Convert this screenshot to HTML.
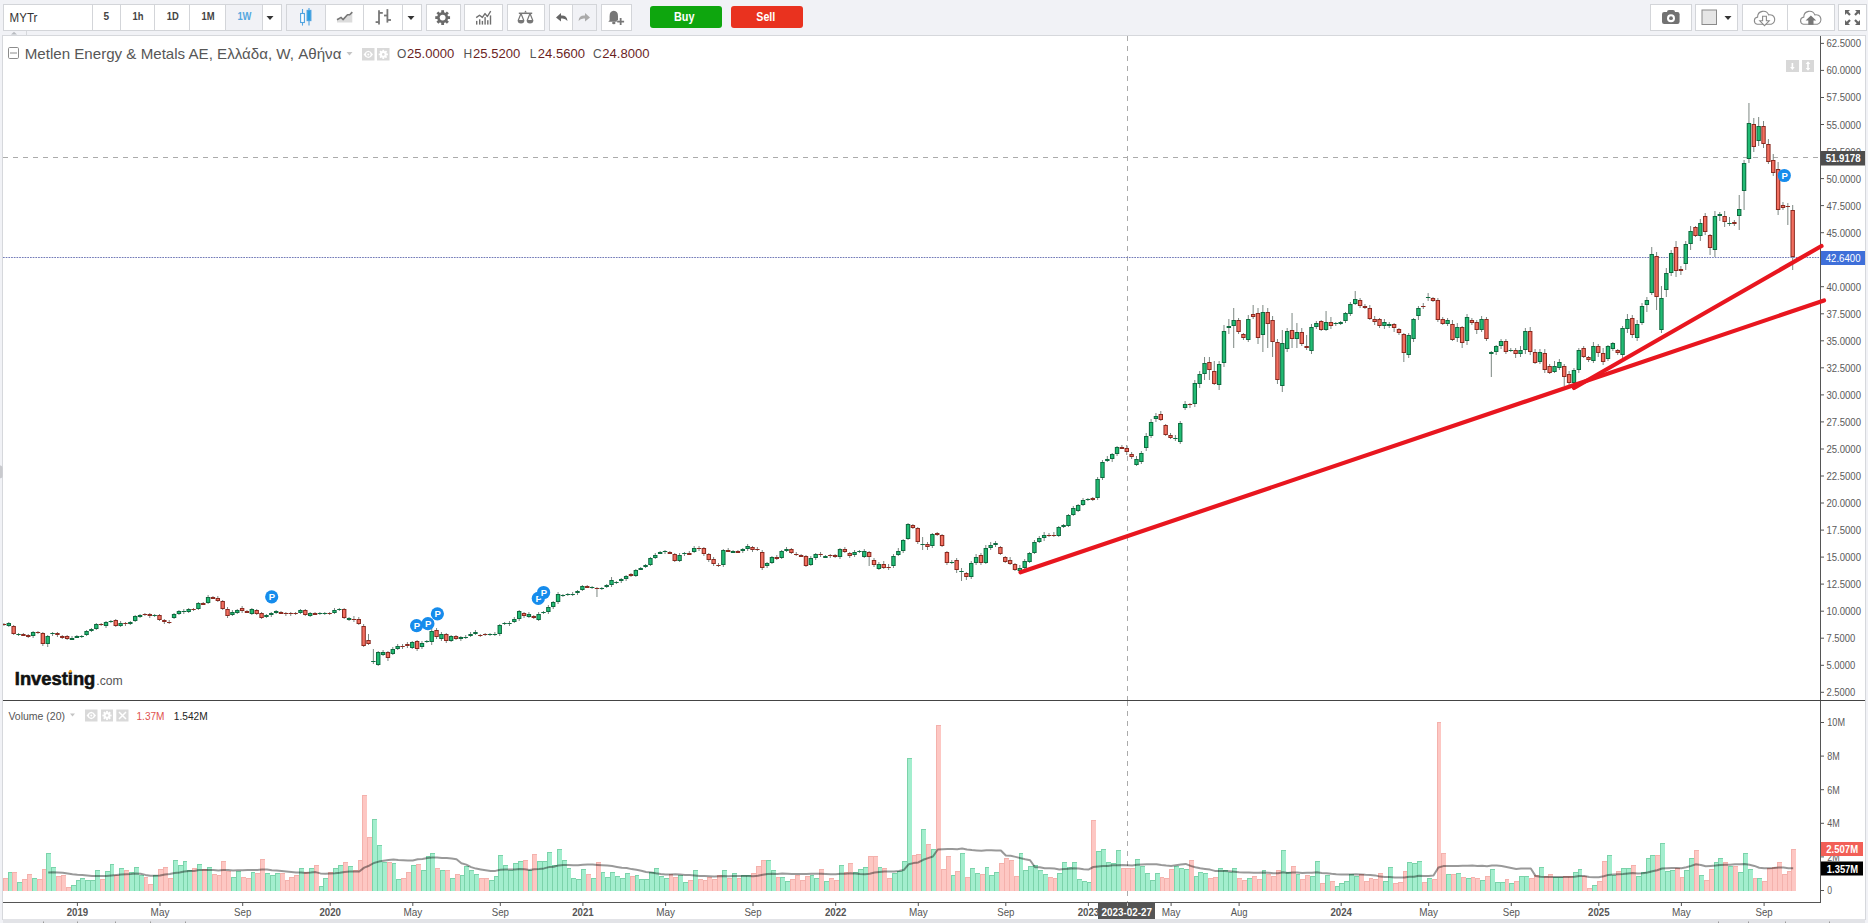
<!DOCTYPE html><html><head><meta charset="utf-8"><title>Metlen Energy &amp; Metals chart</title><style>html,body{margin:0;padding:0;width:1868px;height:923px;overflow:hidden;background:#f1f2f6}</style></head><body><svg width="1868" height="923" viewBox="0 0 1868 923" style="position:absolute;left:0;top:0"><rect x="0" y="0" width="1868" height="923" fill="#f1f2f6"/><rect x="3" y="36" width="1862" height="883" fill="#ffffff"/><rect x="2.5" y="35.5" width="1863" height="884" fill="none" stroke="#d6d8dc"/><path d="M0 465.5 L0.8 465.5 Q2.6 466 2.6 468 L2.6 476 Q2.6 478 0.8 478.3 L0 478.3 Z" fill="#c9cace"/><rect x="3" y="919" width="1862" height="4" fill="#e2e3e7"/><rect x="43" y="921.5" width="1" height="1.5" fill="#9a9a9a"/><rect x="77" y="921.5" width="1" height="1.5" fill="#9a9a9a"/><rect x="115" y="921.5" width="1" height="1.5" fill="#9a9a9a"/><rect x="150" y="921.5" width="1" height="1.5" fill="#9a9a9a"/><rect x="185" y="921.5" width="1" height="1.5" fill="#9a9a9a"/><rect x="1718" y="921.5" width="1" height="1.5" fill="#9a9a9a"/><rect x="1748" y="921.5" width="1" height="1.5" fill="#9a9a9a"/><rect x="1785" y="921.5" width="1" height="1.5" fill="#9a9a9a"/><rect x="1829" y="921.5" width="1" height="1.5" fill="#9a9a9a"/><path d="M11 34.5 L14 31.8 L17 34.5 Z" fill="#b8bbc0"/><rect x="26" y="31" width="1" height="4.5" fill="#d6d8dc"/><rect x="3.5" y="4.5" width="278.0" height="26.0" fill="#ffffff" stroke="#d3d5d9"/><rect x="226" y="5" width="36" height="25" fill="#f1f2f6"/><line x1="92.5" y1="4.5" x2="92.5" y2="30.5" stroke="#d3d5d9"/><line x1="120.5" y1="4.5" x2="120.5" y2="30.5" stroke="#d3d5d9"/><line x1="154.5" y1="4.5" x2="154.5" y2="30.5" stroke="#d3d5d9"/><line x1="189.5" y1="4.5" x2="189.5" y2="30.5" stroke="#d3d5d9"/><line x1="225.5" y1="4.5" x2="225.5" y2="30.5" stroke="#d3d5d9"/><line x1="262.5" y1="4.5" x2="262.5" y2="30.5" stroke="#d3d5d9"/><text x="9.6" y="21.5" font-family="'Liberation Sans', Arial, sans-serif" font-size="12.5" fill="#333" font-weight="normal" text-anchor="start"  textLength="27.8" lengthAdjust="spacingAndGlyphs">MYTr</text><text x="106.3" y="20.4" font-family="'Liberation Sans', Arial, sans-serif" font-size="10" fill="#444" font-weight="bold" text-anchor="middle"  textLength="5.6" lengthAdjust="spacingAndGlyphs">5</text><text x="137.9" y="20.4" font-family="'Liberation Sans', Arial, sans-serif" font-size="10" fill="#444" font-weight="bold" text-anchor="middle"  textLength="11" lengthAdjust="spacingAndGlyphs">1h</text><text x="172.7" y="20.4" font-family="'Liberation Sans', Arial, sans-serif" font-size="10" fill="#444" font-weight="bold" text-anchor="middle"  textLength="12" lengthAdjust="spacingAndGlyphs">1D</text><text x="208.05" y="20.4" font-family="'Liberation Sans', Arial, sans-serif" font-size="10" fill="#444" font-weight="bold" text-anchor="middle"  textLength="13.1" lengthAdjust="spacingAndGlyphs">1M</text><text x="244.45" y="20.4" font-family="'Liberation Sans', Arial, sans-serif" font-size="10" fill="#55a7df" font-weight="bold" text-anchor="middle"  textLength="14.1" lengthAdjust="spacingAndGlyphs">1W</text><path d="M266.5 16 L273.5 16 L270 20 Z" fill="#333"/><rect x="286.5" y="4.5" width="135.0" height="26.0" fill="#ffffff" stroke="#d3d5d9"/><rect x="287" y="5" width="38" height="25" fill="#f1f2f6"/><line x1="325.5" y1="4.5" x2="325.5" y2="30.5" stroke="#d3d5d9"/><line x1="363.5" y1="4.5" x2="363.5" y2="30.5" stroke="#d3d5d9"/><line x1="402.5" y1="4.5" x2="402.5" y2="30.5" stroke="#d3d5d9"/><g stroke="#4fa3e0" stroke-width="1.1" fill="none"><line x1="302.5" y1="9" x2="302.5" y2="25.6"/><rect x="300.6" y="13.5" width="3.8" height="9" fill="#fff"/><line x1="309" y1="8" x2="309" y2="25.6"/><rect x="307.1" y="10.4" width="3.8" height="10.2" fill="#2b9fe0"/></g><path d="M337 22.4 L337 19.8 L341.1 17.4 L343 19.6 L347.5 14.7 L349.7 14.7 L352.3 12.1 L352.3 22.4 Z" fill="#dcdcdc"/><path d="M337 19.8 L341.1 17.4 L343 19.6 L347.5 14.7 L349.7 14.7 L352.3 12.1" fill="none" stroke="#777" stroke-width="1.6" stroke-linejoin="round"/><g stroke="#777" stroke-width="1.8" fill="none"><line x1="379" y1="10.2" x2="379" y2="24.5"/><line x1="379" y1="12.9" x2="382.8" y2="12.9"/><line x1="375.6" y1="22.1" x2="379" y2="22.1"/><line x1="387.4" y1="9.1" x2="387.4" y2="22.6"/><line x1="384" y1="15.5" x2="387.4" y2="15.5"/><line x1="387.4" y1="20" x2="391" y2="20"/></g><path d="M407.5 16 L414.5 16 L411 20 Z" fill="#333"/><rect x="426.5" y="4.5" width="34.0" height="26.0" fill="#ffffff" stroke="#d3d5d9"/><g fill="#6a6a6a"><rect x="441.25" y="10.2" width="2.8" height="4" transform="rotate(0 442.65 17.6)"/><rect x="441.25" y="10.2" width="2.8" height="4" transform="rotate(45 442.65 17.6)"/><rect x="441.25" y="10.2" width="2.8" height="4" transform="rotate(90 442.65 17.6)"/><rect x="441.25" y="10.2" width="2.8" height="4" transform="rotate(135 442.65 17.6)"/><rect x="441.25" y="10.2" width="2.8" height="4" transform="rotate(180 442.65 17.6)"/><rect x="441.25" y="10.2" width="2.8" height="4" transform="rotate(225 442.65 17.6)"/><rect x="441.25" y="10.2" width="2.8" height="4" transform="rotate(270 442.65 17.6)"/><rect x="441.25" y="10.2" width="2.8" height="4" transform="rotate(315 442.65 17.6)"/><circle cx="442.65" cy="17.6" r="5.5"/></g><circle cx="442.65" cy="17.6" r="2.9" fill="#fff"/><rect x="464.5" y="4.5" width="38.0" height="26.0" fill="#ffffff" stroke="#d3d5d9"/><g fill="#6f6f6f"><rect x="476.0" y="20.9" width="1.4" height="3.7"/><rect x="479.0" y="19.3" width="1.4" height="5.3"/><rect x="481.7" y="20.9" width="1.4" height="3.7"/><rect x="484.4" y="17.1" width="1.4" height="7.5"/><rect x="487.1" y="20.2" width="1.4" height="4.4"/><rect x="489.8" y="15.4" width="1.4" height="9.2"/></g><path d="M476.2 17.6 L479.5 15.2 L482.4 17.4 L485 13.6 L487.4 16.5 L490.7 11.2" fill="none" stroke="#6f6f6f" stroke-width="1.4" stroke-linejoin="round"/><rect x="507.5" y="4.5" width="37.0" height="26.0" fill="#ffffff" stroke="#d3d5d9"/><g stroke="#777" stroke-width="1.2" fill="none"><line x1="518.8" y1="13.3" x2="532.2" y2="13.3" stroke-width="1.5"/><path d="M521 13.5 L518.3 20.3 M521 13.5 L523.7 20.3"/><path d="M530 13.5 L527.3 20.3 M530 13.5 L532.7 20.3"/></g><path d="M524.2 12.6 L525.5 10.6 L526.8 12.6 Z" fill="#777"/><path d="M517.6 20 L524.4 20 Q524.4 23.6 521 23.6 Q517.6 23.6 517.6 20 Z" fill="#777"/><path d="M526.6 20 L533.4 20 Q533.4 23.6 530 23.6 Q526.6 23.6 526.6 20 Z" fill="#777"/><rect x="549.5" y="4.5" width="47.0" height="26.0" fill="#ffffff" stroke="#d3d5d9"/><rect x="573" y="5" width="23" height="25" fill="#f1f2f6"/><line x1="572.5" y1="4.5" x2="572.5" y2="30.5" stroke="#d3d5d9"/><path d="M556 17.5 L561 13 L561 15.6 Q567 15.2 567.5 21 Q565 17.8 561 18.6 L561 21.5 Z" fill="#666"/><path d="M590 17.5 L585 13 L585 15.6 Q579 15.2 578.5 21 Q581 17.8 585 18.6 L585 21.5 Z" fill="#aaa"/><rect x="601.5" y="4.5" width="30.0" height="26.0" fill="#ffffff" stroke="#d3d5d9"/><path d="M608.3 21.8 L609.6 20.2 L609.6 16.2 Q609.6 11 613.8 10.8 Q618 11 618 16.2 L618 20.2 L619.3 21.8 Z" fill="#777"/><ellipse cx="613.8" cy="23" rx="1.7" ry="1.3" fill="#777"/><path d="M617.2 20.7 h6.9 v1.8 h-6.9 Z M619.75 18.1 h1.8 v7 h-1.8 Z" fill="#777" stroke="#fff" stroke-width="0.8" paint-order="stroke"/><rect x="650" y="6" width="72" height="22" rx="3" fill="#0ea60e"/><rect x="731" y="6" width="72" height="22" rx="3" fill="#e9321f"/><text x="684.2" y="21.2" font-family="'Liberation Sans', Arial, sans-serif" font-size="12" fill="#ffffff" font-weight="bold" text-anchor="middle"  textLength="20.5" lengthAdjust="spacingAndGlyphs">Buy</text><text x="765.8" y="21.2" font-family="'Liberation Sans', Arial, sans-serif" font-size="12" fill="#ffffff" font-weight="bold" text-anchor="middle"  textLength="19" lengthAdjust="spacingAndGlyphs">Sell</text><rect x="1650.5" y="4.5" width="41.0" height="26.0" fill="#ffffff" stroke="#d3d5d9"/><rect x="1662" y="12" width="17.6" height="12" rx="2.2" fill="#727272"/><rect x="1667" y="10" width="8" height="4" rx="2" fill="#727272"/><circle cx="1671" cy="18.2" r="4" fill="#fff"/><circle cx="1671" cy="18.2" r="1.9" fill="#727272"/><rect x="1695.5" y="4.5" width="42.0" height="26.0" fill="#ffffff" stroke="#d3d5d9"/><rect x="1702" y="10" width="14.5" height="14.5" fill="#e6e6e6" stroke="#8a8a8a"/><path d="M1724.5 16 L1731.5 16 L1728 20 Z" fill="#333"/><rect x="1742.5" y="4.5" width="92.0" height="26.0" fill="#ffffff" stroke="#d3d5d9"/><line x1="1787.5" y1="4.5" x2="1787.5" y2="30.5" stroke="#d3d5d9"/><path d="M1757.2 24.2 A3.6 3.6 0 0 1 1757.6 17.1 A5.7 5.7 0 0 1 1768.6 14.9 A4.6 4.6 0 0 1 1771.2 24.2 Z" fill="#fff" stroke="#8a8a8a" stroke-width="1.1"/><path d="M1762.6 16.2 L1766.4 16.2 L1766.4 20.8 L1769.2 20.8 L1764.5 25.6 L1759.8 20.8 L1762.6 20.8 Z" fill="#fff" stroke="#8a8a8a" stroke-width="1.1"/><path d="M1803.4 24.2 A3.6 3.6 0 0 1 1803.8 17.1 A5.7 5.7 0 0 1 1814.8 14.9 A4.6 4.6 0 0 1 1817.4 24.2 Z" fill="#fff" stroke="#8a8a8a" stroke-width="1.1"/><path d="M1808.3 24.8 L1813.5 24.8 L1813.5 20.6 L1816.2 20.6 L1810.9 15.6 L1805.6 20.6 L1808.3 20.6 Z" fill="#777"/><rect x="1838.5" y="4.5" width="28.0" height="26.0" fill="#ffffff" stroke="#d3d5d9"/><g fill="#666"><path d="M1845 10 L1850 10 L1848.3 11.7 L1850.8 14.2 L1849.2 15.8 L1846.7 13.3 L1845 15 Z"/><path d="M1860 10 L1855 10 L1856.7 11.7 L1854.2 14.2 L1855.8 15.8 L1858.3 13.3 L1860 15 Z"/><path d="M1845 25 L1850 25 L1848.3 23.3 L1850.8 20.8 L1849.2 19.2 L1846.7 21.7 L1845 20 Z"/><path d="M1860 25 L1855 25 L1856.7 23.3 L1854.2 20.8 L1855.8 19.2 L1858.3 21.7 L1860 20 Z"/></g><defs><clipPath id="pp"><rect x="3" y="36" width="1817" height="664"/></clipPath><clipPath id="vp"><rect x="3" y="701" width="1817" height="201"/></clipPath></defs><g clip-path="url(#pp)"><line x1="3" y1="157.5" x2="1820" y2="157.5" stroke="#ababab" stroke-dasharray="5 5"/><line x1="1127.5" y1="36" x2="1127.5" y2="700" stroke="#ababab" stroke-dasharray="5 5"/><line x1="3" y1="257.5" x2="1820" y2="257.5" stroke="#737bb8" stroke-dasharray="1.7 1" stroke-width="1"/><g fill="#7d8883"><rect x="3.45" y="623" width="1" height="3"/><rect x="8.31" y="622" width="1" height="5"/><rect x="13.17" y="625" width="1" height="10"/><rect x="18.03" y="633" width="1" height="3"/><rect x="22.89" y="633" width="1" height="3"/><rect x="27.75" y="634" width="1" height="4"/><rect x="32.61" y="631" width="1" height="7"/><rect x="37.47" y="631" width="1" height="3"/><rect x="42.34" y="632" width="1" height="14"/><rect x="47.20" y="635" width="1" height="12"/><rect x="52.06" y="632" width="1" height="4"/><rect x="56.92" y="632" width="1" height="5"/><rect x="61.78" y="635" width="1" height="4"/><rect x="66.64" y="635" width="1" height="5"/><rect x="71.50" y="636" width="1" height="4"/><rect x="76.36" y="635" width="1" height="3"/><rect x="81.22" y="635" width="1" height="3"/><rect x="86.08" y="630" width="1" height="6"/><rect x="90.94" y="628" width="1" height="4"/><rect x="95.80" y="623" width="1" height="7"/><rect x="100.66" y="623" width="1" height="3"/><rect x="105.52" y="621" width="1" height="7"/><rect x="110.39" y="620" width="1" height="3"/><rect x="115.25" y="619" width="1" height="8"/><rect x="120.11" y="621" width="1" height="6"/><rect x="124.97" y="622" width="1" height="4"/><rect x="129.83" y="621" width="1" height="4"/><rect x="134.69" y="615" width="1" height="7"/><rect x="139.55" y="614" width="1" height="4"/><rect x="144.41" y="613" width="1" height="3"/><rect x="149.27" y="613" width="1" height="5"/><rect x="154.13" y="614" width="1" height="3"/><rect x="158.99" y="614" width="1" height="7"/><rect x="163.85" y="619" width="1" height="5"/><rect x="168.71" y="620" width="1" height="4"/><rect x="173.57" y="613" width="1" height="6"/><rect x="178.44" y="610" width="1" height="5"/><rect x="183.30" y="609" width="1" height="5"/><rect x="188.16" y="608" width="1" height="5"/><rect x="193.02" y="608" width="1" height="3"/><rect x="197.88" y="602" width="1" height="8"/><rect x="202.74" y="602" width="1" height="3"/><rect x="207.60" y="595" width="1" height="9"/><rect x="212.46" y="596" width="1" height="3"/><rect x="217.32" y="596" width="1" height="6"/><rect x="222.18" y="600" width="1" height="10"/><rect x="227.04" y="607" width="1" height="11"/><rect x="231.90" y="610" width="1" height="6"/><rect x="236.76" y="609" width="1" height="5"/><rect x="241.62" y="606" width="1" height="7"/><rect x="246.48" y="610" width="1" height="3"/><rect x="251.35" y="608" width="1" height="7"/><rect x="256.21" y="609" width="1" height="6"/><rect x="261.07" y="612" width="1" height="7"/><rect x="265.93" y="614" width="1" height="4"/><rect x="270.79" y="612" width="1" height="5"/><rect x="275.65" y="610" width="1" height="4"/><rect x="280.51" y="611" width="1" height="3"/><rect x="285.37" y="612" width="1" height="4"/><rect x="290.23" y="612" width="1" height="4"/><rect x="295.09" y="612" width="1" height="3"/><rect x="299.95" y="609" width="1" height="5"/><rect x="304.81" y="609" width="1" height="7"/><rect x="309.67" y="612" width="1" height="5"/><rect x="314.53" y="612" width="1" height="3"/><rect x="319.40" y="612" width="1" height="3"/><rect x="324.26" y="612" width="1" height="3"/><rect x="329.12" y="612" width="1" height="3"/><rect x="333.98" y="608" width="1" height="6"/><rect x="338.84" y="608" width="1" height="3"/><rect x="343.70" y="608" width="1" height="11"/><rect x="348.56" y="617" width="1" height="4"/><rect x="353.42" y="616" width="1" height="6"/><rect x="358.28" y="617" width="1" height="8"/><rect x="363.14" y="624" width="1" height="23"/><rect x="368.00" y="634" width="1" height="11"/><rect x="372.86" y="649" width="1" height="15"/><rect x="377.72" y="651" width="1" height="15"/><rect x="382.58" y="650" width="1" height="6"/><rect x="387.45" y="651" width="1" height="10"/><rect x="392.31" y="647" width="1" height="8"/><rect x="397.17" y="644" width="1" height="6"/><rect x="402.03" y="644" width="1" height="5"/><rect x="406.89" y="642" width="1" height="6"/><rect x="411.75" y="641" width="1" height="8"/><rect x="416.61" y="640" width="1" height="11"/><rect x="421.47" y="641" width="1" height="8"/><rect x="426.33" y="640" width="1" height="3"/><rect x="431.19" y="629" width="1" height="16"/><rect x="436.05" y="628" width="1" height="11"/><rect x="440.91" y="632" width="1" height="9"/><rect x="445.77" y="633" width="1" height="10"/><rect x="450.63" y="635" width="1" height="7"/><rect x="455.50" y="635" width="1" height="5"/><rect x="460.36" y="636" width="1" height="5"/><rect x="465.22" y="635" width="1" height="4"/><rect x="470.08" y="632" width="1" height="5"/><rect x="474.94" y="630" width="1" height="5"/><rect x="479.80" y="634" width="1" height="3"/><rect x="484.66" y="633" width="1" height="3"/><rect x="489.52" y="633" width="1" height="3"/><rect x="494.38" y="632" width="1" height="4"/><rect x="499.24" y="624" width="1" height="12"/><rect x="504.10" y="622" width="1" height="3"/><rect x="508.96" y="621" width="1" height="5"/><rect x="513.82" y="617" width="1" height="6"/><rect x="518.68" y="610" width="1" height="11"/><rect x="523.54" y="612" width="1" height="6"/><rect x="528.41" y="612" width="1" height="6"/><rect x="533.27" y="615" width="1" height="4"/><rect x="538.13" y="612" width="1" height="9"/><rect x="542.99" y="611" width="1" height="3"/><rect x="547.85" y="605" width="1" height="9"/><rect x="552.71" y="601" width="1" height="8"/><rect x="557.57" y="592" width="1" height="12"/><rect x="562.43" y="594" width="1" height="3"/><rect x="567.29" y="593" width="1" height="3"/><rect x="572.15" y="592" width="1" height="4"/><rect x="577.01" y="590" width="1" height="5"/><rect x="581.87" y="585" width="1" height="6"/><rect x="586.73" y="585" width="1" height="3"/><rect x="591.59" y="586" width="1" height="3"/><rect x="596.46" y="587" width="1" height="10"/><rect x="601.32" y="587" width="1" height="3"/><rect x="606.18" y="584" width="1" height="4"/><rect x="611.04" y="577" width="1" height="10"/><rect x="615.90" y="581" width="1" height="3"/><rect x="620.76" y="578" width="1" height="5"/><rect x="625.62" y="575" width="1" height="6"/><rect x="630.48" y="573" width="1" height="4"/><rect x="635.34" y="569" width="1" height="8"/><rect x="640.20" y="567" width="1" height="3"/><rect x="645.06" y="564" width="1" height="4"/><rect x="649.92" y="557" width="1" height="9"/><rect x="654.78" y="553" width="1" height="6"/><rect x="659.64" y="551" width="1" height="3"/><rect x="664.51" y="550" width="1" height="4"/><rect x="669.37" y="551" width="1" height="3"/><rect x="674.23" y="553" width="1" height="9"/><rect x="679.09" y="553" width="1" height="9"/><rect x="683.95" y="552" width="1" height="4"/><rect x="688.81" y="551" width="1" height="4"/><rect x="693.67" y="546" width="1" height="7"/><rect x="698.53" y="546" width="1" height="5"/><rect x="703.39" y="547" width="1" height="9"/><rect x="708.25" y="553" width="1" height="9"/><rect x="713.11" y="557" width="1" height="9"/><rect x="717.97" y="563" width="1" height="4"/><rect x="722.83" y="549" width="1" height="18"/><rect x="727.69" y="548" width="1" height="4"/><rect x="732.55" y="550" width="1" height="3"/><rect x="737.42" y="550" width="1" height="3"/><rect x="742.28" y="548" width="1" height="5"/><rect x="747.14" y="544" width="1" height="7"/><rect x="752.00" y="546" width="1" height="6"/><rect x="756.86" y="547" width="1" height="4"/><rect x="761.72" y="550" width="1" height="20"/><rect x="766.58" y="562" width="1" height="6"/><rect x="771.44" y="556" width="1" height="8"/><rect x="776.30" y="555" width="1" height="5"/><rect x="781.16" y="550" width="1" height="9"/><rect x="786.02" y="547" width="1" height="5"/><rect x="790.88" y="548" width="1" height="6"/><rect x="795.74" y="552" width="1" height="4"/><rect x="800.60" y="554" width="1" height="3"/><rect x="805.47" y="555" width="1" height="12"/><rect x="810.33" y="556" width="1" height="10"/><rect x="815.19" y="553" width="1" height="7"/><rect x="820.05" y="552" width="1" height="5"/><rect x="824.91" y="555" width="1" height="3"/><rect x="829.77" y="554" width="1" height="4"/><rect x="834.63" y="554" width="1" height="4"/><rect x="839.49" y="548" width="1" height="11"/><rect x="844.35" y="547" width="1" height="6"/><rect x="849.21" y="552" width="1" height="6"/><rect x="854.07" y="550" width="1" height="7"/><rect x="858.93" y="550" width="1" height="3"/><rect x="863.79" y="549" width="1" height="9"/><rect x="868.65" y="551" width="1" height="15"/><rect x="873.52" y="558" width="1" height="9"/><rect x="878.38" y="562" width="1" height="8"/><rect x="883.24" y="561" width="1" height="8"/><rect x="888.10" y="564" width="1" height="6"/><rect x="892.96" y="554" width="1" height="14"/><rect x="897.82" y="548" width="1" height="8"/><rect x="902.68" y="539" width="1" height="14"/><rect x="907.54" y="523" width="1" height="17"/><rect x="912.40" y="524" width="1" height="5"/><rect x="917.26" y="527" width="1" height="17"/><rect x="922.12" y="537" width="1" height="13"/><rect x="926.98" y="542" width="1" height="8"/><rect x="931.84" y="533" width="1" height="15"/><rect x="936.70" y="532" width="1" height="4"/><rect x="941.57" y="534" width="1" height="13"/><rect x="946.43" y="551" width="1" height="14"/><rect x="951.29" y="560" width="1" height="4"/><rect x="956.15" y="558" width="1" height="15"/><rect x="961.01" y="568" width="1" height="13"/><rect x="965.87" y="572" width="1" height="8"/><rect x="970.73" y="561" width="1" height="18"/><rect x="975.59" y="554" width="1" height="11"/><rect x="980.45" y="553" width="1" height="12"/><rect x="985.31" y="545" width="1" height="19"/><rect x="990.17" y="542" width="1" height="8"/><rect x="995.03" y="541" width="1" height="6"/><rect x="999.89" y="546" width="1" height="9"/><rect x="1004.75" y="556" width="1" height="7"/><rect x="1009.61" y="557" width="1" height="8"/><rect x="1014.48" y="563" width="1" height="8"/><rect x="1019.34" y="565" width="1" height="9"/><rect x="1024.20" y="559" width="1" height="10"/><rect x="1029.06" y="552" width="1" height="11"/><rect x="1033.92" y="540" width="1" height="14"/><rect x="1038.78" y="536" width="1" height="7"/><rect x="1043.64" y="532" width="1" height="9"/><rect x="1048.50" y="533" width="1" height="4"/><rect x="1053.36" y="532" width="1" height="5"/><rect x="1058.22" y="526" width="1" height="11"/><rect x="1063.08" y="524" width="1" height="4"/><rect x="1067.94" y="514" width="1" height="13"/><rect x="1072.80" y="506" width="1" height="10"/><rect x="1077.66" y="504" width="1" height="8"/><rect x="1082.53" y="498" width="1" height="8"/><rect x="1087.39" y="498" width="1" height="3"/><rect x="1092.25" y="497" width="1" height="4"/><rect x="1097.11" y="477" width="1" height="23"/><rect x="1101.97" y="460" width="1" height="20"/><rect x="1106.83" y="456" width="1" height="6"/><rect x="1111.69" y="453" width="1" height="9"/><rect x="1116.55" y="446" width="1" height="10"/><rect x="1121.41" y="445" width="1" height="4"/><rect x="1126.27" y="445" width="1" height="10"/><rect x="1131.13" y="452" width="1" height="7"/><rect x="1135.99" y="456" width="1" height="10"/><rect x="1140.85" y="451" width="1" height="13"/><rect x="1145.71" y="433" width="1" height="18"/><rect x="1150.58" y="419" width="1" height="19"/><rect x="1155.44" y="413" width="1" height="9"/><rect x="1160.30" y="411" width="1" height="10"/><rect x="1165.16" y="424" width="1" height="12"/><rect x="1170.02" y="433" width="1" height="6"/><rect x="1174.88" y="435" width="1" height="6"/><rect x="1179.74" y="421" width="1" height="23"/><rect x="1184.60" y="401" width="1" height="9"/><rect x="1189.46" y="403" width="1" height="5"/><rect x="1194.32" y="380" width="1" height="27"/><rect x="1199.18" y="371" width="1" height="17"/><rect x="1204.04" y="357" width="1" height="23"/><rect x="1208.90" y="357" width="1" height="23"/><rect x="1213.76" y="361" width="1" height="24"/><rect x="1218.62" y="361" width="1" height="29"/><rect x="1223.49" y="325" width="1" height="42"/><rect x="1228.35" y="319" width="1" height="15"/><rect x="1233.21" y="308" width="1" height="40"/><rect x="1238.07" y="318" width="1" height="16"/><rect x="1242.93" y="333" width="1" height="7"/><rect x="1247.79" y="315" width="1" height="27"/><rect x="1252.65" y="305" width="1" height="14"/><rect x="1257.51" y="308" width="1" height="36"/><rect x="1262.37" y="305" width="1" height="47"/><rect x="1267.23" y="308" width="1" height="40"/><rect x="1272.09" y="316" width="1" height="41"/><rect x="1276.95" y="339" width="1" height="45"/><rect x="1281.81" y="330" width="1" height="62"/><rect x="1286.67" y="328" width="1" height="24"/><rect x="1291.54" y="313" width="1" height="35"/><rect x="1296.40" y="323" width="1" height="25"/><rect x="1301.26" y="328" width="1" height="18"/><rect x="1306.12" y="335" width="1" height="15"/><rect x="1310.98" y="324" width="1" height="30"/><rect x="1315.84" y="321" width="1" height="8"/><rect x="1320.70" y="320" width="1" height="11"/><rect x="1325.56" y="311" width="1" height="20"/><rect x="1330.42" y="317" width="1" height="12"/><rect x="1335.28" y="322" width="1" height="4"/><rect x="1340.14" y="321" width="1" height="4"/><rect x="1345.00" y="312" width="1" height="11"/><rect x="1349.86" y="302" width="1" height="14"/><rect x="1354.72" y="291" width="1" height="14"/><rect x="1359.59" y="298" width="1" height="10"/><rect x="1364.45" y="304" width="1" height="5"/><rect x="1369.31" y="305" width="1" height="15"/><rect x="1374.17" y="316" width="1" height="9"/><rect x="1379.03" y="318" width="1" height="10"/><rect x="1383.89" y="319" width="1" height="10"/><rect x="1388.75" y="322" width="1" height="6"/><rect x="1393.61" y="323" width="1" height="9"/><rect x="1398.47" y="328" width="1" height="7"/><rect x="1403.33" y="333" width="1" height="29"/><rect x="1408.19" y="333" width="1" height="25"/><rect x="1413.05" y="318" width="1" height="24"/><rect x="1417.91" y="306" width="1" height="14"/><rect x="1422.77" y="303" width="1" height="6"/><rect x="1427.64" y="293" width="1" height="8"/><rect x="1432.50" y="297" width="1" height="5"/><rect x="1437.36" y="298" width="1" height="24"/><rect x="1442.22" y="317" width="1" height="8"/><rect x="1447.08" y="318" width="1" height="8"/><rect x="1451.94" y="320" width="1" height="21"/><rect x="1456.80" y="323" width="1" height="19"/><rect x="1461.66" y="326" width="1" height="22"/><rect x="1466.52" y="314" width="1" height="31"/><rect x="1471.38" y="318" width="1" height="7"/><rect x="1476.24" y="320" width="1" height="14"/><rect x="1481.10" y="316" width="1" height="16"/><rect x="1485.96" y="317" width="1" height="24"/><rect x="1490.82" y="351" width="1" height="26"/><rect x="1495.68" y="345" width="1" height="10"/><rect x="1500.55" y="339" width="1" height="10"/><rect x="1505.41" y="339" width="1" height="15"/><rect x="1510.27" y="348" width="1" height="4"/><rect x="1515.13" y="348" width="1" height="10"/><rect x="1519.99" y="346" width="1" height="11"/><rect x="1524.85" y="328" width="1" height="26"/><rect x="1529.71" y="327" width="1" height="28"/><rect x="1534.57" y="349" width="1" height="15"/><rect x="1539.43" y="349" width="1" height="15"/><rect x="1544.29" y="349" width="1" height="24"/><rect x="1549.15" y="364" width="1" height="10"/><rect x="1554.01" y="361" width="1" height="12"/><rect x="1558.87" y="359" width="1" height="11"/><rect x="1563.73" y="364" width="1" height="22"/><rect x="1568.60" y="371" width="1" height="16"/><rect x="1573.46" y="368" width="1" height="18"/><rect x="1578.32" y="348" width="1" height="25"/><rect x="1583.18" y="346" width="1" height="12"/><rect x="1588.04" y="356" width="1" height="6"/><rect x="1592.90" y="342" width="1" height="21"/><rect x="1597.76" y="344" width="1" height="13"/><rect x="1602.62" y="348" width="1" height="17"/><rect x="1607.48" y="345" width="1" height="16"/><rect x="1612.34" y="342" width="1" height="9"/><rect x="1617.20" y="349" width="1" height="6"/><rect x="1622.06" y="326" width="1" height="32"/><rect x="1626.92" y="314" width="1" height="19"/><rect x="1631.78" y="315" width="1" height="23"/><rect x="1636.65" y="320" width="1" height="21"/><rect x="1641.51" y="303" width="1" height="22"/><rect x="1646.37" y="297" width="1" height="15"/><rect x="1651.23" y="247" width="1" height="48"/><rect x="1656.09" y="252" width="1" height="58"/><rect x="1660.95" y="286" width="1" height="47"/><rect x="1665.81" y="268" width="1" height="29"/><rect x="1670.67" y="250" width="1" height="26"/><rect x="1675.53" y="241" width="1" height="36"/><rect x="1680.39" y="266" width="1" height="9"/><rect x="1685.25" y="241" width="1" height="29"/><rect x="1690.11" y="226" width="1" height="24"/><rect x="1694.97" y="226" width="1" height="11"/><rect x="1699.83" y="219" width="1" height="22"/><rect x="1704.69" y="213" width="1" height="22"/><rect x="1709.56" y="234" width="1" height="21"/><rect x="1714.42" y="211" width="1" height="46"/><rect x="1719.28" y="212" width="1" height="9"/><rect x="1724.14" y="211" width="1" height="16"/><rect x="1729.00" y="217" width="1" height="9"/><rect x="1733.86" y="220" width="1" height="6"/><rect x="1738.72" y="195" width="1" height="35"/><rect x="1743.58" y="160" width="1" height="50"/><rect x="1748.44" y="103" width="1" height="60"/><rect x="1753.30" y="118" width="1" height="34"/><rect x="1758.16" y="117" width="1" height="29"/><rect x="1763.02" y="121" width="1" height="27"/><rect x="1767.88" y="139" width="1" height="25"/><rect x="1772.74" y="154" width="1" height="22"/><rect x="1777.61" y="162" width="1" height="53"/><rect x="1782.47" y="202" width="1" height="8"/><rect x="1787.33" y="203" width="1" height="22"/><rect x="1792.19" y="205" width="1" height="65"/></g><g><rect x="1.75" y="624" width="4.4" height="1" fill="#8a2a20"/><rect x="6.61" y="623" width="4.4" height="3" fill="#0e6b3f"/><rect x="7.61" y="624" width="2.4" height="1" fill="#22bb74"/><rect x="11.47" y="626" width="4.4" height="8" fill="#8a2a20"/><rect x="12.47" y="627" width="2.4" height="6" fill="#f26f60"/><rect x="16.33" y="634" width="4.4" height="1" fill="#0e6b3f"/><rect x="21.19" y="634" width="4.4" height="2" fill="#8a2a20"/><rect x="26.05" y="635" width="4.4" height="2" fill="#8a2a20"/><rect x="30.91" y="632" width="4.4" height="4" fill="#0e6b3f"/><rect x="31.91" y="633" width="2.4" height="2" fill="#22bb74"/><rect x="35.77" y="632" width="4.4" height="1" fill="#8a2a20"/><rect x="40.64" y="633" width="4.4" height="11" fill="#8a2a20"/><rect x="41.64" y="634" width="2.4" height="9" fill="#f26f60"/><rect x="45.50" y="636" width="4.4" height="8" fill="#0e6b3f"/><rect x="46.50" y="637" width="2.4" height="6" fill="#22bb74"/><rect x="50.36" y="633" width="4.4" height="1" fill="#0e6b3f"/><rect x="55.22" y="633" width="4.4" height="2" fill="#8a2a20"/><rect x="60.08" y="636" width="4.4" height="2" fill="#8a2a20"/><rect x="64.94" y="636" width="4.4" height="3" fill="#8a2a20"/><rect x="65.94" y="637" width="2.4" height="1" fill="#f26f60"/><rect x="69.80" y="638" width="4.4" height="2" fill="#0e6b3f"/><rect x="74.66" y="636" width="4.4" height="2" fill="#0e6b3f"/><rect x="79.52" y="636" width="4.4" height="1" fill="#0e6b3f"/><rect x="84.38" y="631" width="4.4" height="4" fill="#0e6b3f"/><rect x="85.38" y="632" width="2.4" height="2" fill="#22bb74"/><rect x="89.24" y="629" width="4.4" height="2" fill="#0e6b3f"/><rect x="94.10" y="624" width="4.4" height="5" fill="#0e6b3f"/><rect x="95.10" y="625" width="2.4" height="3" fill="#22bb74"/><rect x="98.96" y="624" width="4.4" height="1" fill="#8a2a20"/><rect x="103.82" y="622" width="4.4" height="4" fill="#0e6b3f"/><rect x="104.82" y="623" width="2.4" height="2" fill="#22bb74"/><rect x="108.69" y="621" width="4.4" height="1" fill="#0e6b3f"/><rect x="113.55" y="620" width="4.4" height="6" fill="#8a2a20"/><rect x="114.55" y="621" width="2.4" height="4" fill="#f26f60"/><rect x="118.41" y="623" width="4.4" height="3" fill="#0e6b3f"/><rect x="119.41" y="624" width="2.4" height="1" fill="#22bb74"/><rect x="123.27" y="623" width="4.4" height="1" fill="#8a2a20"/><rect x="128.13" y="622" width="4.4" height="2" fill="#0e6b3f"/><rect x="132.99" y="616" width="4.4" height="5" fill="#0e6b3f"/><rect x="133.99" y="617" width="2.4" height="3" fill="#22bb74"/><rect x="137.85" y="615" width="4.4" height="2" fill="#0e6b3f"/><rect x="142.71" y="614" width="4.4" height="1" fill="#8a2a20"/><rect x="147.57" y="614" width="4.4" height="2" fill="#8a2a20"/><rect x="152.43" y="615" width="4.4" height="1" fill="#0e6b3f"/><rect x="157.29" y="615" width="4.4" height="5" fill="#8a2a20"/><rect x="158.29" y="616" width="2.4" height="3" fill="#f26f60"/><rect x="162.15" y="620" width="4.4" height="2" fill="#8a2a20"/><rect x="167.01" y="622" width="4.4" height="1" fill="#8a2a20"/><rect x="171.87" y="614" width="4.4" height="4" fill="#0e6b3f"/><rect x="172.87" y="615" width="2.4" height="2" fill="#22bb74"/><rect x="176.74" y="611" width="4.4" height="3" fill="#0e6b3f"/><rect x="177.74" y="612" width="2.4" height="1" fill="#22bb74"/><rect x="181.60" y="611" width="4.4" height="1" fill="#0e6b3f"/><rect x="186.46" y="609" width="4.4" height="3" fill="#0e6b3f"/><rect x="187.46" y="610" width="2.4" height="1" fill="#22bb74"/><rect x="191.32" y="609" width="4.4" height="1" fill="#8a2a20"/><rect x="196.18" y="603" width="4.4" height="6" fill="#0e6b3f"/><rect x="197.18" y="604" width="2.4" height="4" fill="#22bb74"/><rect x="201.04" y="603" width="4.4" height="2" fill="#8a2a20"/><rect x="205.90" y="597" width="4.4" height="6" fill="#0e6b3f"/><rect x="206.90" y="598" width="2.4" height="4" fill="#22bb74"/><rect x="210.76" y="597" width="4.4" height="2" fill="#8a2a20"/><rect x="215.62" y="598" width="4.4" height="3" fill="#8a2a20"/><rect x="216.62" y="599" width="2.4" height="1" fill="#f26f60"/><rect x="220.48" y="601" width="4.4" height="8" fill="#8a2a20"/><rect x="221.48" y="602" width="2.4" height="6" fill="#f26f60"/><rect x="225.34" y="609" width="4.4" height="7" fill="#8a2a20"/><rect x="226.34" y="610" width="2.4" height="5" fill="#f26f60"/><rect x="230.20" y="612" width="4.4" height="3" fill="#0e6b3f"/><rect x="231.20" y="613" width="2.4" height="1" fill="#22bb74"/><rect x="235.06" y="610" width="4.4" height="3" fill="#0e6b3f"/><rect x="236.06" y="611" width="2.4" height="1" fill="#22bb74"/><rect x="239.92" y="608" width="4.4" height="3" fill="#8a2a20"/><rect x="240.92" y="609" width="2.4" height="1" fill="#f26f60"/><rect x="244.78" y="611" width="4.4" height="2" fill="#8a2a20"/><rect x="249.65" y="609" width="4.4" height="5" fill="#0e6b3f"/><rect x="250.65" y="610" width="2.4" height="3" fill="#22bb74"/><rect x="254.51" y="610" width="4.4" height="4" fill="#8a2a20"/><rect x="255.51" y="611" width="2.4" height="2" fill="#f26f60"/><rect x="259.37" y="613" width="4.4" height="5" fill="#8a2a20"/><rect x="260.37" y="614" width="2.4" height="3" fill="#f26f60"/><rect x="264.23" y="615" width="4.4" height="2" fill="#0e6b3f"/><rect x="269.09" y="613" width="4.4" height="2" fill="#0e6b3f"/><rect x="273.95" y="611" width="4.4" height="2" fill="#0e6b3f"/><rect x="278.81" y="612" width="4.4" height="2" fill="#8a2a20"/><rect x="283.67" y="613" width="4.4" height="1" fill="#8a2a20"/><rect x="288.53" y="613" width="4.4" height="1" fill="#8a2a20"/><rect x="293.39" y="613" width="4.4" height="1" fill="#8a2a20"/><rect x="298.25" y="610" width="4.4" height="3" fill="#0e6b3f"/><rect x="299.25" y="611" width="2.4" height="1" fill="#22bb74"/><rect x="303.11" y="610" width="4.4" height="5" fill="#8a2a20"/><rect x="304.11" y="611" width="2.4" height="3" fill="#f26f60"/><rect x="307.97" y="613" width="4.4" height="3" fill="#0e6b3f"/><rect x="308.97" y="614" width="2.4" height="1" fill="#22bb74"/><rect x="312.83" y="613" width="4.4" height="2" fill="#8a2a20"/><rect x="317.70" y="613" width="4.4" height="1" fill="#0e6b3f"/><rect x="322.56" y="613" width="4.4" height="1" fill="#0e6b3f"/><rect x="327.42" y="613" width="4.4" height="1" fill="#8a2a20"/><rect x="332.28" y="610" width="4.4" height="3" fill="#0e6b3f"/><rect x="333.28" y="611" width="2.4" height="1" fill="#22bb74"/><rect x="337.14" y="609" width="4.4" height="1" fill="#0e6b3f"/><rect x="342.00" y="609" width="4.4" height="9" fill="#8a2a20"/><rect x="343.00" y="610" width="2.4" height="7" fill="#f26f60"/><rect x="346.86" y="618" width="4.4" height="2" fill="#0e6b3f"/><rect x="351.72" y="619" width="4.4" height="1" fill="#8a2a20"/><rect x="356.58" y="619" width="4.4" height="5" fill="#8a2a20"/><rect x="357.58" y="620" width="2.4" height="3" fill="#f26f60"/><rect x="361.44" y="626" width="4.4" height="20" fill="#8a2a20"/><rect x="362.44" y="627" width="2.4" height="18" fill="#f26f60"/><rect x="366.30" y="640" width="4.4" height="4" fill="#8a2a20"/><rect x="367.30" y="641" width="2.4" height="2" fill="#f26f60"/><rect x="371.16" y="661" width="4.4" height="1" fill="#0e6b3f"/><rect x="376.02" y="652" width="4.4" height="13" fill="#0e6b3f"/><rect x="377.02" y="653" width="2.4" height="11" fill="#22bb74"/><rect x="380.88" y="652" width="4.4" height="3" fill="#0e6b3f"/><rect x="381.88" y="653" width="2.4" height="1" fill="#22bb74"/><rect x="385.75" y="652" width="4.4" height="6" fill="#8a2a20"/><rect x="386.75" y="653" width="2.4" height="4" fill="#f26f60"/><rect x="390.61" y="649" width="4.4" height="5" fill="#0e6b3f"/><rect x="391.61" y="650" width="2.4" height="3" fill="#22bb74"/><rect x="395.47" y="646" width="4.4" height="3" fill="#0e6b3f"/><rect x="396.47" y="647" width="2.4" height="1" fill="#22bb74"/><rect x="400.33" y="646" width="4.4" height="1" fill="#8a2a20"/><rect x="405.19" y="644" width="4.4" height="2" fill="#8a2a20"/><rect x="410.05" y="642" width="4.4" height="6" fill="#0e6b3f"/><rect x="411.05" y="643" width="2.4" height="4" fill="#22bb74"/><rect x="414.91" y="641" width="4.4" height="8" fill="#8a2a20"/><rect x="415.91" y="642" width="2.4" height="6" fill="#f26f60"/><rect x="419.77" y="643" width="4.4" height="4" fill="#0e6b3f"/><rect x="420.77" y="644" width="2.4" height="2" fill="#22bb74"/><rect x="424.63" y="641" width="4.4" height="1" fill="#0e6b3f"/><rect x="429.49" y="631" width="4.4" height="11" fill="#0e6b3f"/><rect x="430.49" y="632" width="2.4" height="9" fill="#22bb74"/><rect x="434.35" y="630" width="4.4" height="7" fill="#8a2a20"/><rect x="435.35" y="631" width="2.4" height="5" fill="#f26f60"/><rect x="439.21" y="634" width="4.4" height="5" fill="#0e6b3f"/><rect x="440.21" y="635" width="2.4" height="3" fill="#22bb74"/><rect x="444.07" y="634" width="4.4" height="7" fill="#8a2a20"/><rect x="445.07" y="635" width="2.4" height="5" fill="#f26f60"/><rect x="448.93" y="636" width="4.4" height="5" fill="#0e6b3f"/><rect x="449.93" y="637" width="2.4" height="3" fill="#22bb74"/><rect x="453.80" y="636" width="4.4" height="3" fill="#8a2a20"/><rect x="454.80" y="637" width="2.4" height="1" fill="#f26f60"/><rect x="458.66" y="637" width="4.4" height="2" fill="#0e6b3f"/><rect x="463.52" y="637" width="4.4" height="1" fill="#0e6b3f"/><rect x="468.38" y="634" width="4.4" height="2" fill="#0e6b3f"/><rect x="473.24" y="632" width="4.4" height="2" fill="#0e6b3f"/><rect x="478.10" y="635" width="4.4" height="1" fill="#8a2a20"/><rect x="482.96" y="634" width="4.4" height="1" fill="#8a2a20"/><rect x="487.82" y="634" width="4.4" height="1" fill="#0e6b3f"/><rect x="492.68" y="634" width="4.4" height="1" fill="#0e6b3f"/><rect x="497.54" y="625" width="4.4" height="9" fill="#0e6b3f"/><rect x="498.54" y="626" width="2.4" height="7" fill="#22bb74"/><rect x="502.40" y="623" width="4.4" height="1" fill="#0e6b3f"/><rect x="507.26" y="623" width="4.4" height="1" fill="#0e6b3f"/><rect x="512.12" y="619" width="4.4" height="3" fill="#0e6b3f"/><rect x="513.12" y="620" width="2.4" height="1" fill="#22bb74"/><rect x="516.98" y="611" width="4.4" height="8" fill="#0e6b3f"/><rect x="517.98" y="612" width="2.4" height="6" fill="#22bb74"/><rect x="521.84" y="613" width="4.4" height="3" fill="#8a2a20"/><rect x="522.84" y="614" width="2.4" height="1" fill="#f26f60"/><rect x="526.71" y="614" width="4.4" height="3" fill="#0e6b3f"/><rect x="527.71" y="615" width="2.4" height="1" fill="#22bb74"/><rect x="531.57" y="616" width="4.4" height="2" fill="#8a2a20"/><rect x="536.43" y="614" width="4.4" height="6" fill="#0e6b3f"/><rect x="537.43" y="615" width="2.4" height="4" fill="#22bb74"/><rect x="541.29" y="612" width="4.4" height="1" fill="#0e6b3f"/><rect x="546.15" y="607" width="4.4" height="5" fill="#0e6b3f"/><rect x="547.15" y="608" width="2.4" height="3" fill="#22bb74"/><rect x="551.01" y="602" width="4.4" height="5" fill="#0e6b3f"/><rect x="552.01" y="603" width="2.4" height="3" fill="#22bb74"/><rect x="555.87" y="594" width="4.4" height="8" fill="#0e6b3f"/><rect x="556.87" y="595" width="2.4" height="6" fill="#22bb74"/><rect x="560.73" y="595" width="4.4" height="1" fill="#0e6b3f"/><rect x="565.59" y="594" width="4.4" height="1" fill="#0e6b3f"/><rect x="570.45" y="594" width="4.4" height="1" fill="#0e6b3f"/><rect x="575.31" y="591" width="4.4" height="2" fill="#0e6b3f"/><rect x="580.17" y="586" width="4.4" height="4" fill="#0e6b3f"/><rect x="581.17" y="587" width="2.4" height="2" fill="#22bb74"/><rect x="585.03" y="586" width="4.4" height="2" fill="#8a2a20"/><rect x="589.89" y="587" width="4.4" height="1" fill="#0e6b3f"/><rect x="594.76" y="588" width="4.4" height="1" fill="#8a2a20"/><rect x="599.62" y="588" width="4.4" height="1" fill="#0e6b3f"/><rect x="604.48" y="585" width="4.4" height="2" fill="#0e6b3f"/><rect x="609.34" y="580" width="4.4" height="5" fill="#0e6b3f"/><rect x="610.34" y="581" width="2.4" height="3" fill="#22bb74"/><rect x="614.20" y="582" width="4.4" height="1" fill="#0e6b3f"/><rect x="619.06" y="579" width="4.4" height="2" fill="#0e6b3f"/><rect x="623.92" y="576" width="4.4" height="3" fill="#0e6b3f"/><rect x="624.92" y="577" width="2.4" height="1" fill="#22bb74"/><rect x="628.78" y="574" width="4.4" height="2" fill="#8a2a20"/><rect x="633.64" y="570" width="4.4" height="6" fill="#0e6b3f"/><rect x="634.64" y="571" width="2.4" height="4" fill="#22bb74"/><rect x="638.50" y="568" width="4.4" height="2" fill="#0e6b3f"/><rect x="643.36" y="565" width="4.4" height="2" fill="#0e6b3f"/><rect x="648.22" y="558" width="4.4" height="7" fill="#0e6b3f"/><rect x="649.22" y="559" width="2.4" height="5" fill="#22bb74"/><rect x="653.08" y="555" width="4.4" height="3" fill="#0e6b3f"/><rect x="654.08" y="556" width="2.4" height="1" fill="#22bb74"/><rect x="657.94" y="552" width="4.4" height="2" fill="#0e6b3f"/><rect x="662.81" y="551" width="4.4" height="1" fill="#0e6b3f"/><rect x="667.67" y="552" width="4.4" height="2" fill="#8a2a20"/><rect x="672.53" y="554" width="4.4" height="7" fill="#8a2a20"/><rect x="673.53" y="555" width="2.4" height="5" fill="#f26f60"/><rect x="677.39" y="555" width="4.4" height="6" fill="#0e6b3f"/><rect x="678.39" y="556" width="2.4" height="4" fill="#22bb74"/><rect x="682.25" y="553" width="4.4" height="1" fill="#0e6b3f"/><rect x="687.11" y="553" width="4.4" height="2" fill="#8a2a20"/><rect x="691.97" y="548" width="4.4" height="4" fill="#0e6b3f"/><rect x="692.97" y="549" width="2.4" height="2" fill="#22bb74"/><rect x="696.83" y="548" width="4.4" height="1" fill="#8a2a20"/><rect x="701.69" y="548" width="4.4" height="6" fill="#8a2a20"/><rect x="702.69" y="549" width="2.4" height="4" fill="#f26f60"/><rect x="706.55" y="554" width="4.4" height="6" fill="#8a2a20"/><rect x="707.55" y="555" width="2.4" height="4" fill="#f26f60"/><rect x="711.41" y="559" width="4.4" height="5" fill="#8a2a20"/><rect x="712.41" y="560" width="2.4" height="3" fill="#f26f60"/><rect x="716.27" y="565" width="4.4" height="1" fill="#8a2a20"/><rect x="721.13" y="550" width="4.4" height="15" fill="#0e6b3f"/><rect x="722.13" y="551" width="2.4" height="13" fill="#22bb74"/><rect x="725.99" y="550" width="4.4" height="2" fill="#8a2a20"/><rect x="730.85" y="551" width="4.4" height="2" fill="#0e6b3f"/><rect x="735.72" y="551" width="4.4" height="2" fill="#8a2a20"/><rect x="740.58" y="549" width="4.4" height="2" fill="#0e6b3f"/><rect x="745.44" y="546" width="4.4" height="3" fill="#0e6b3f"/><rect x="746.44" y="547" width="2.4" height="1" fill="#22bb74"/><rect x="750.30" y="547" width="4.4" height="3" fill="#8a2a20"/><rect x="751.30" y="548" width="2.4" height="1" fill="#f26f60"/><rect x="755.16" y="549" width="4.4" height="1" fill="#8a2a20"/><rect x="760.02" y="552" width="4.4" height="16" fill="#8a2a20"/><rect x="761.02" y="553" width="2.4" height="14" fill="#f26f60"/><rect x="764.88" y="563" width="4.4" height="3" fill="#0e6b3f"/><rect x="765.88" y="564" width="2.4" height="1" fill="#22bb74"/><rect x="769.74" y="557" width="4.4" height="6" fill="#0e6b3f"/><rect x="770.74" y="558" width="2.4" height="4" fill="#22bb74"/><rect x="774.60" y="557" width="4.4" height="2" fill="#8a2a20"/><rect x="779.46" y="551" width="4.4" height="7" fill="#0e6b3f"/><rect x="780.46" y="552" width="2.4" height="5" fill="#22bb74"/><rect x="784.32" y="549" width="4.4" height="2" fill="#0e6b3f"/><rect x="789.18" y="549" width="4.4" height="4" fill="#8a2a20"/><rect x="790.18" y="550" width="2.4" height="2" fill="#f26f60"/><rect x="794.04" y="554" width="4.4" height="1" fill="#8a2a20"/><rect x="798.90" y="555" width="4.4" height="2" fill="#8a2a20"/><rect x="803.77" y="556" width="4.4" height="10" fill="#8a2a20"/><rect x="804.77" y="557" width="2.4" height="8" fill="#f26f60"/><rect x="808.63" y="558" width="4.4" height="7" fill="#0e6b3f"/><rect x="809.63" y="559" width="2.4" height="5" fill="#22bb74"/><rect x="813.49" y="554" width="4.4" height="4" fill="#0e6b3f"/><rect x="814.49" y="555" width="2.4" height="2" fill="#22bb74"/><rect x="818.35" y="554" width="4.4" height="1" fill="#8a2a20"/><rect x="823.21" y="556" width="4.4" height="2" fill="#0e6b3f"/><rect x="828.07" y="555" width="4.4" height="1" fill="#8a2a20"/><rect x="832.93" y="555" width="4.4" height="2" fill="#8a2a20"/><rect x="837.79" y="549" width="4.4" height="8" fill="#0e6b3f"/><rect x="838.79" y="550" width="2.4" height="6" fill="#22bb74"/><rect x="842.65" y="549" width="4.4" height="3" fill="#8a2a20"/><rect x="843.65" y="550" width="2.4" height="1" fill="#f26f60"/><rect x="847.51" y="553" width="4.4" height="3" fill="#8a2a20"/><rect x="848.51" y="554" width="2.4" height="1" fill="#f26f60"/><rect x="852.37" y="552" width="4.4" height="3" fill="#0e6b3f"/><rect x="853.37" y="553" width="2.4" height="1" fill="#22bb74"/><rect x="857.23" y="551" width="4.4" height="1" fill="#0e6b3f"/><rect x="862.09" y="551" width="4.4" height="6" fill="#0e6b3f"/><rect x="863.09" y="552" width="2.4" height="4" fill="#22bb74"/><rect x="866.95" y="552" width="4.4" height="5" fill="#8a2a20"/><rect x="867.95" y="553" width="2.4" height="3" fill="#f26f60"/><rect x="871.82" y="560" width="4.4" height="5" fill="#8a2a20"/><rect x="872.82" y="561" width="2.4" height="3" fill="#f26f60"/><rect x="876.68" y="564" width="4.4" height="5" fill="#0e6b3f"/><rect x="877.68" y="565" width="2.4" height="3" fill="#22bb74"/><rect x="881.54" y="564" width="4.4" height="4" fill="#8a2a20"/><rect x="882.54" y="565" width="2.4" height="2" fill="#f26f60"/><rect x="886.40" y="567" width="4.4" height="1" fill="#8a2a20"/><rect x="891.26" y="556" width="4.4" height="10" fill="#0e6b3f"/><rect x="892.26" y="557" width="2.4" height="8" fill="#22bb74"/><rect x="896.12" y="551" width="4.4" height="4" fill="#0e6b3f"/><rect x="897.12" y="552" width="2.4" height="2" fill="#22bb74"/><rect x="900.98" y="540" width="4.4" height="11" fill="#0e6b3f"/><rect x="901.98" y="541" width="2.4" height="9" fill="#22bb74"/><rect x="905.84" y="524" width="4.4" height="15" fill="#0e6b3f"/><rect x="906.84" y="525" width="2.4" height="13" fill="#22bb74"/><rect x="910.70" y="525" width="4.4" height="3" fill="#8a2a20"/><rect x="911.70" y="526" width="2.4" height="1" fill="#f26f60"/><rect x="915.56" y="528" width="4.4" height="14" fill="#8a2a20"/><rect x="916.56" y="529" width="2.4" height="12" fill="#f26f60"/><rect x="920.42" y="544" width="4.4" height="1" fill="#0e6b3f"/><rect x="925.28" y="544" width="4.4" height="3" fill="#8a2a20"/><rect x="926.28" y="545" width="2.4" height="1" fill="#f26f60"/><rect x="930.14" y="534" width="4.4" height="12" fill="#0e6b3f"/><rect x="931.14" y="535" width="2.4" height="10" fill="#22bb74"/><rect x="935.00" y="533" width="4.4" height="2" fill="#8a2a20"/><rect x="939.87" y="535" width="4.4" height="11" fill="#8a2a20"/><rect x="940.87" y="536" width="2.4" height="9" fill="#f26f60"/><rect x="944.73" y="552" width="4.4" height="11" fill="#8a2a20"/><rect x="945.73" y="553" width="2.4" height="9" fill="#f26f60"/><rect x="949.59" y="562" width="4.4" height="1" fill="#0e6b3f"/><rect x="954.45" y="560" width="4.4" height="10" fill="#8a2a20"/><rect x="955.45" y="561" width="2.4" height="8" fill="#f26f60"/><rect x="959.31" y="571" width="4.4" height="1" fill="#0e6b3f"/><rect x="964.17" y="573" width="4.4" height="4" fill="#8a2a20"/><rect x="965.17" y="574" width="2.4" height="2" fill="#f26f60"/><rect x="969.03" y="563" width="4.4" height="14" fill="#0e6b3f"/><rect x="970.03" y="564" width="2.4" height="12" fill="#22bb74"/><rect x="973.89" y="557" width="4.4" height="6" fill="#0e6b3f"/><rect x="974.89" y="558" width="2.4" height="4" fill="#22bb74"/><rect x="978.75" y="555" width="4.4" height="8" fill="#8a2a20"/><rect x="979.75" y="556" width="2.4" height="6" fill="#f26f60"/><rect x="983.61" y="548" width="4.4" height="15" fill="#0e6b3f"/><rect x="984.61" y="549" width="2.4" height="13" fill="#22bb74"/><rect x="988.47" y="545" width="4.4" height="3" fill="#0e6b3f"/><rect x="989.47" y="546" width="2.4" height="1" fill="#22bb74"/><rect x="993.33" y="543" width="4.4" height="2" fill="#0e6b3f"/><rect x="998.19" y="547" width="4.4" height="7" fill="#8a2a20"/><rect x="999.19" y="548" width="2.4" height="5" fill="#f26f60"/><rect x="1003.05" y="557" width="4.4" height="5" fill="#8a2a20"/><rect x="1004.05" y="558" width="2.4" height="3" fill="#f26f60"/><rect x="1007.91" y="560" width="4.4" height="4" fill="#8a2a20"/><rect x="1008.91" y="561" width="2.4" height="2" fill="#f26f60"/><rect x="1012.78" y="564" width="4.4" height="6" fill="#8a2a20"/><rect x="1013.78" y="565" width="2.4" height="4" fill="#f26f60"/><rect x="1017.64" y="568" width="4.4" height="3" fill="#0e6b3f"/><rect x="1018.64" y="569" width="2.4" height="1" fill="#22bb74"/><rect x="1022.50" y="561" width="4.4" height="7" fill="#0e6b3f"/><rect x="1023.50" y="562" width="2.4" height="5" fill="#22bb74"/><rect x="1027.36" y="553" width="4.4" height="9" fill="#0e6b3f"/><rect x="1028.36" y="554" width="2.4" height="7" fill="#22bb74"/><rect x="1032.22" y="542" width="4.4" height="11" fill="#0e6b3f"/><rect x="1033.22" y="543" width="2.4" height="9" fill="#22bb74"/><rect x="1037.08" y="538" width="4.4" height="4" fill="#0e6b3f"/><rect x="1038.08" y="539" width="2.4" height="2" fill="#22bb74"/><rect x="1041.94" y="535" width="4.4" height="3" fill="#0e6b3f"/><rect x="1042.94" y="536" width="2.4" height="1" fill="#22bb74"/><rect x="1046.80" y="535" width="4.4" height="1" fill="#8a2a20"/><rect x="1051.66" y="535" width="4.4" height="1" fill="#8a2a20"/><rect x="1056.52" y="527" width="4.4" height="9" fill="#0e6b3f"/><rect x="1057.52" y="528" width="2.4" height="7" fill="#22bb74"/><rect x="1061.38" y="525" width="4.4" height="2" fill="#0e6b3f"/><rect x="1066.24" y="515" width="4.4" height="11" fill="#0e6b3f"/><rect x="1067.24" y="516" width="2.4" height="9" fill="#22bb74"/><rect x="1071.10" y="508" width="4.4" height="7" fill="#0e6b3f"/><rect x="1072.10" y="509" width="2.4" height="5" fill="#22bb74"/><rect x="1075.96" y="505" width="4.4" height="6" fill="#0e6b3f"/><rect x="1076.96" y="506" width="2.4" height="4" fill="#22bb74"/><rect x="1080.83" y="500" width="4.4" height="5" fill="#0e6b3f"/><rect x="1081.83" y="501" width="2.4" height="3" fill="#22bb74"/><rect x="1085.69" y="499" width="4.4" height="1" fill="#0e6b3f"/><rect x="1090.55" y="498" width="4.4" height="2" fill="#8a2a20"/><rect x="1095.41" y="479" width="4.4" height="19" fill="#0e6b3f"/><rect x="1096.41" y="480" width="2.4" height="17" fill="#22bb74"/><rect x="1100.27" y="462" width="4.4" height="16" fill="#0e6b3f"/><rect x="1101.27" y="463" width="2.4" height="14" fill="#22bb74"/><rect x="1105.13" y="459" width="4.4" height="2" fill="#0e6b3f"/><rect x="1109.99" y="454" width="4.4" height="5" fill="#0e6b3f"/><rect x="1110.99" y="455" width="2.4" height="3" fill="#22bb74"/><rect x="1114.85" y="447" width="4.4" height="7" fill="#0e6b3f"/><rect x="1115.85" y="448" width="2.4" height="5" fill="#22bb74"/><rect x="1119.71" y="447" width="4.4" height="2" fill="#8a2a20"/><rect x="1124.57" y="448" width="4.4" height="4" fill="#8a2a20"/><rect x="1125.57" y="449" width="2.4" height="2" fill="#f26f60"/><rect x="1129.43" y="454" width="4.4" height="3" fill="#8a2a20"/><rect x="1130.43" y="455" width="2.4" height="1" fill="#f26f60"/><rect x="1134.29" y="459" width="4.4" height="6" fill="#0e6b3f"/><rect x="1135.29" y="460" width="2.4" height="4" fill="#22bb74"/><rect x="1139.15" y="453" width="4.4" height="9" fill="#0e6b3f"/><rect x="1140.15" y="454" width="2.4" height="7" fill="#22bb74"/><rect x="1144.01" y="436" width="4.4" height="12" fill="#0e6b3f"/><rect x="1145.01" y="437" width="2.4" height="10" fill="#22bb74"/><rect x="1148.88" y="422" width="4.4" height="14" fill="#0e6b3f"/><rect x="1149.88" y="423" width="2.4" height="12" fill="#22bb74"/><rect x="1153.74" y="416" width="4.4" height="3" fill="#0e6b3f"/><rect x="1154.74" y="417" width="2.4" height="1" fill="#22bb74"/><rect x="1158.60" y="414" width="4.4" height="6" fill="#8a2a20"/><rect x="1159.60" y="415" width="2.4" height="4" fill="#f26f60"/><rect x="1163.46" y="425" width="4.4" height="10" fill="#8a2a20"/><rect x="1164.46" y="426" width="2.4" height="8" fill="#f26f60"/><rect x="1168.32" y="435" width="4.4" height="3" fill="#8a2a20"/><rect x="1169.32" y="436" width="2.4" height="1" fill="#f26f60"/><rect x="1173.18" y="438" width="4.4" height="1" fill="#0e6b3f"/><rect x="1178.04" y="423" width="4.4" height="19" fill="#0e6b3f"/><rect x="1179.04" y="424" width="2.4" height="17" fill="#22bb74"/><rect x="1182.90" y="404" width="4.4" height="4" fill="#0e6b3f"/><rect x="1183.90" y="405" width="2.4" height="2" fill="#22bb74"/><rect x="1187.76" y="404" width="4.4" height="1" fill="#8a2a20"/><rect x="1192.62" y="383" width="4.4" height="21" fill="#0e6b3f"/><rect x="1193.62" y="384" width="2.4" height="19" fill="#22bb74"/><rect x="1197.48" y="374" width="4.4" height="10" fill="#0e6b3f"/><rect x="1198.48" y="375" width="2.4" height="8" fill="#22bb74"/><rect x="1202.34" y="363" width="4.4" height="11" fill="#0e6b3f"/><rect x="1203.34" y="364" width="2.4" height="9" fill="#22bb74"/><rect x="1207.20" y="362" width="4.4" height="8" fill="#8a2a20"/><rect x="1208.20" y="363" width="2.4" height="6" fill="#f26f60"/><rect x="1212.06" y="371" width="4.4" height="13" fill="#8a2a20"/><rect x="1213.06" y="372" width="2.4" height="11" fill="#f26f60"/><rect x="1216.92" y="364" width="4.4" height="21" fill="#0e6b3f"/><rect x="1217.92" y="365" width="2.4" height="19" fill="#22bb74"/><rect x="1221.79" y="331" width="4.4" height="32" fill="#0e6b3f"/><rect x="1222.79" y="332" width="2.4" height="30" fill="#22bb74"/><rect x="1226.65" y="326" width="4.4" height="2" fill="#0e6b3f"/><rect x="1231.51" y="320" width="4.4" height="6" fill="#0e6b3f"/><rect x="1232.51" y="321" width="2.4" height="4" fill="#22bb74"/><rect x="1236.37" y="320" width="4.4" height="12" fill="#8a2a20"/><rect x="1237.37" y="321" width="2.4" height="10" fill="#f26f60"/><rect x="1241.23" y="334" width="4.4" height="4" fill="#8a2a20"/><rect x="1242.23" y="335" width="2.4" height="2" fill="#f26f60"/><rect x="1246.09" y="319" width="4.4" height="21" fill="#0e6b3f"/><rect x="1247.09" y="320" width="2.4" height="19" fill="#22bb74"/><rect x="1250.95" y="314" width="4.4" height="3" fill="#8a2a20"/><rect x="1251.95" y="315" width="2.4" height="1" fill="#f26f60"/><rect x="1255.81" y="313" width="4.4" height="25" fill="#8a2a20"/><rect x="1256.81" y="314" width="2.4" height="23" fill="#f26f60"/><rect x="1260.67" y="312" width="4.4" height="23" fill="#0e6b3f"/><rect x="1261.67" y="313" width="2.4" height="21" fill="#22bb74"/><rect x="1265.53" y="312" width="4.4" height="12" fill="#8a2a20"/><rect x="1266.53" y="313" width="2.4" height="10" fill="#f26f60"/><rect x="1270.39" y="320" width="4.4" height="22" fill="#8a2a20"/><rect x="1271.39" y="321" width="2.4" height="20" fill="#f26f60"/><rect x="1275.25" y="342" width="4.4" height="38" fill="#8a2a20"/><rect x="1276.25" y="343" width="2.4" height="36" fill="#f26f60"/><rect x="1280.11" y="343" width="4.4" height="43" fill="#0e6b3f"/><rect x="1281.11" y="344" width="2.4" height="41" fill="#22bb74"/><rect x="1284.97" y="331" width="4.4" height="18" fill="#0e6b3f"/><rect x="1285.97" y="332" width="2.4" height="16" fill="#22bb74"/><rect x="1289.84" y="330" width="4.4" height="9" fill="#8a2a20"/><rect x="1290.84" y="331" width="2.4" height="7" fill="#f26f60"/><rect x="1294.70" y="332" width="4.4" height="7" fill="#0e6b3f"/><rect x="1295.70" y="333" width="2.4" height="5" fill="#22bb74"/><rect x="1299.56" y="332" width="4.4" height="12" fill="#8a2a20"/><rect x="1300.56" y="333" width="2.4" height="10" fill="#f26f60"/><rect x="1304.42" y="346" width="4.4" height="2" fill="#8a2a20"/><rect x="1309.28" y="327" width="4.4" height="24" fill="#0e6b3f"/><rect x="1310.28" y="328" width="2.4" height="22" fill="#22bb74"/><rect x="1314.14" y="323" width="4.4" height="4" fill="#0e6b3f"/><rect x="1315.14" y="324" width="2.4" height="2" fill="#22bb74"/><rect x="1319.00" y="321" width="4.4" height="9" fill="#8a2a20"/><rect x="1320.00" y="322" width="2.4" height="7" fill="#f26f60"/><rect x="1323.86" y="322" width="4.4" height="8" fill="#0e6b3f"/><rect x="1324.86" y="323" width="2.4" height="6" fill="#22bb74"/><rect x="1328.72" y="322" width="4.4" height="4" fill="#8a2a20"/><rect x="1329.72" y="323" width="2.4" height="2" fill="#f26f60"/><rect x="1333.58" y="323" width="4.4" height="1" fill="#0e6b3f"/><rect x="1338.44" y="322" width="4.4" height="2" fill="#0e6b3f"/><rect x="1343.30" y="313" width="4.4" height="8" fill="#0e6b3f"/><rect x="1344.30" y="314" width="2.4" height="6" fill="#22bb74"/><rect x="1348.16" y="304" width="4.4" height="10" fill="#0e6b3f"/><rect x="1349.16" y="305" width="2.4" height="8" fill="#22bb74"/><rect x="1353.02" y="299" width="4.4" height="5" fill="#0e6b3f"/><rect x="1354.02" y="300" width="2.4" height="3" fill="#22bb74"/><rect x="1357.89" y="300" width="4.4" height="6" fill="#8a2a20"/><rect x="1358.89" y="301" width="2.4" height="4" fill="#f26f60"/><rect x="1362.75" y="306" width="4.4" height="2" fill="#8a2a20"/><rect x="1367.61" y="308" width="4.4" height="11" fill="#8a2a20"/><rect x="1368.61" y="309" width="2.4" height="9" fill="#f26f60"/><rect x="1372.47" y="319" width="4.4" height="3" fill="#8a2a20"/><rect x="1373.47" y="320" width="2.4" height="1" fill="#f26f60"/><rect x="1377.33" y="319" width="4.4" height="7" fill="#8a2a20"/><rect x="1378.33" y="320" width="2.4" height="5" fill="#f26f60"/><rect x="1382.19" y="322" width="4.4" height="4" fill="#0e6b3f"/><rect x="1383.19" y="323" width="2.4" height="2" fill="#22bb74"/><rect x="1387.05" y="324" width="4.4" height="2" fill="#0e6b3f"/><rect x="1391.91" y="324" width="4.4" height="4" fill="#8a2a20"/><rect x="1392.91" y="325" width="2.4" height="2" fill="#f26f60"/><rect x="1396.77" y="329" width="4.4" height="4" fill="#8a2a20"/><rect x="1397.77" y="330" width="2.4" height="2" fill="#f26f60"/><rect x="1401.63" y="334" width="4.4" height="19" fill="#8a2a20"/><rect x="1402.63" y="335" width="2.4" height="17" fill="#f26f60"/><rect x="1406.49" y="335" width="4.4" height="20" fill="#0e6b3f"/><rect x="1407.49" y="336" width="2.4" height="18" fill="#22bb74"/><rect x="1411.35" y="319" width="4.4" height="20" fill="#0e6b3f"/><rect x="1412.35" y="320" width="2.4" height="18" fill="#22bb74"/><rect x="1416.21" y="308" width="4.4" height="8" fill="#0e6b3f"/><rect x="1417.21" y="309" width="2.4" height="6" fill="#22bb74"/><rect x="1421.07" y="306" width="4.4" height="1" fill="#8a2a20"/><rect x="1425.94" y="297" width="4.4" height="1" fill="#0e6b3f"/><rect x="1430.80" y="298" width="4.4" height="3" fill="#8a2a20"/><rect x="1431.80" y="299" width="2.4" height="1" fill="#f26f60"/><rect x="1435.66" y="300" width="4.4" height="20" fill="#8a2a20"/><rect x="1436.66" y="301" width="2.4" height="18" fill="#f26f60"/><rect x="1440.52" y="319" width="4.4" height="5" fill="#8a2a20"/><rect x="1441.52" y="320" width="2.4" height="3" fill="#f26f60"/><rect x="1445.38" y="320" width="4.4" height="4" fill="#0e6b3f"/><rect x="1446.38" y="321" width="2.4" height="2" fill="#22bb74"/><rect x="1450.24" y="324" width="4.4" height="16" fill="#8a2a20"/><rect x="1451.24" y="325" width="2.4" height="14" fill="#f26f60"/><rect x="1455.10" y="327" width="4.4" height="11" fill="#0e6b3f"/><rect x="1456.10" y="328" width="2.4" height="9" fill="#22bb74"/><rect x="1459.96" y="327" width="4.4" height="16" fill="#8a2a20"/><rect x="1460.96" y="328" width="2.4" height="14" fill="#f26f60"/><rect x="1464.82" y="317" width="4.4" height="24" fill="#0e6b3f"/><rect x="1465.82" y="318" width="2.4" height="22" fill="#22bb74"/><rect x="1469.68" y="320" width="4.4" height="3" fill="#8a2a20"/><rect x="1470.68" y="321" width="2.4" height="1" fill="#f26f60"/><rect x="1474.54" y="322" width="4.4" height="8" fill="#8a2a20"/><rect x="1475.54" y="323" width="2.4" height="6" fill="#f26f60"/><rect x="1479.40" y="319" width="4.4" height="11" fill="#0e6b3f"/><rect x="1480.40" y="320" width="2.4" height="9" fill="#22bb74"/><rect x="1484.26" y="319" width="4.4" height="20" fill="#8a2a20"/><rect x="1485.26" y="320" width="2.4" height="18" fill="#f26f60"/><rect x="1489.12" y="352" width="4.4" height="2" fill="#0e6b3f"/><rect x="1493.98" y="346" width="4.4" height="6" fill="#0e6b3f"/><rect x="1494.98" y="347" width="2.4" height="4" fill="#22bb74"/><rect x="1498.85" y="341" width="4.4" height="5" fill="#0e6b3f"/><rect x="1499.85" y="342" width="2.4" height="3" fill="#22bb74"/><rect x="1503.71" y="341" width="4.4" height="11" fill="#8a2a20"/><rect x="1504.71" y="342" width="2.4" height="9" fill="#f26f60"/><rect x="1508.57" y="350" width="4.4" height="1" fill="#0e6b3f"/><rect x="1513.43" y="350" width="4.4" height="4" fill="#8a2a20"/><rect x="1514.43" y="351" width="2.4" height="2" fill="#f26f60"/><rect x="1518.29" y="350" width="4.4" height="4" fill="#0e6b3f"/><rect x="1519.29" y="351" width="2.4" height="2" fill="#22bb74"/><rect x="1523.15" y="331" width="4.4" height="19" fill="#0e6b3f"/><rect x="1524.15" y="332" width="2.4" height="17" fill="#22bb74"/><rect x="1528.01" y="331" width="4.4" height="21" fill="#8a2a20"/><rect x="1529.01" y="332" width="2.4" height="19" fill="#f26f60"/><rect x="1532.87" y="352" width="4.4" height="11" fill="#8a2a20"/><rect x="1533.87" y="353" width="2.4" height="9" fill="#f26f60"/><rect x="1537.73" y="352" width="4.4" height="10" fill="#0e6b3f"/><rect x="1538.73" y="353" width="2.4" height="8" fill="#22bb74"/><rect x="1542.59" y="353" width="4.4" height="17" fill="#8a2a20"/><rect x="1543.59" y="354" width="2.4" height="15" fill="#f26f60"/><rect x="1547.45" y="366" width="4.4" height="7" fill="#8a2a20"/><rect x="1548.45" y="367" width="2.4" height="5" fill="#f26f60"/><rect x="1552.31" y="366" width="4.4" height="6" fill="#0e6b3f"/><rect x="1553.31" y="367" width="2.4" height="4" fill="#22bb74"/><rect x="1557.17" y="362" width="4.4" height="6" fill="#0e6b3f"/><rect x="1558.17" y="363" width="2.4" height="4" fill="#22bb74"/><rect x="1562.03" y="366" width="4.4" height="11" fill="#8a2a20"/><rect x="1563.03" y="367" width="2.4" height="9" fill="#f26f60"/><rect x="1566.90" y="374" width="4.4" height="9" fill="#8a2a20"/><rect x="1567.90" y="375" width="2.4" height="7" fill="#f26f60"/><rect x="1571.76" y="370" width="4.4" height="13" fill="#0e6b3f"/><rect x="1572.76" y="371" width="2.4" height="11" fill="#22bb74"/><rect x="1576.62" y="350" width="4.4" height="20" fill="#0e6b3f"/><rect x="1577.62" y="351" width="2.4" height="18" fill="#22bb74"/><rect x="1581.48" y="348" width="4.4" height="9" fill="#8a2a20"/><rect x="1582.48" y="349" width="2.4" height="7" fill="#f26f60"/><rect x="1586.34" y="357" width="4.4" height="3" fill="#8a2a20"/><rect x="1587.34" y="358" width="2.4" height="1" fill="#f26f60"/><rect x="1591.20" y="346" width="4.4" height="15" fill="#0e6b3f"/><rect x="1592.20" y="347" width="2.4" height="13" fill="#22bb74"/><rect x="1596.06" y="346" width="4.4" height="7" fill="#8a2a20"/><rect x="1597.06" y="347" width="2.4" height="5" fill="#f26f60"/><rect x="1600.92" y="353" width="4.4" height="9" fill="#8a2a20"/><rect x="1601.92" y="354" width="2.4" height="7" fill="#f26f60"/><rect x="1605.78" y="346" width="4.4" height="13" fill="#0e6b3f"/><rect x="1606.78" y="347" width="2.4" height="11" fill="#22bb74"/><rect x="1610.64" y="343" width="4.4" height="6" fill="#0e6b3f"/><rect x="1611.64" y="344" width="2.4" height="4" fill="#22bb74"/><rect x="1615.50" y="350" width="4.4" height="3" fill="#8a2a20"/><rect x="1616.50" y="351" width="2.4" height="1" fill="#f26f60"/><rect x="1620.36" y="328" width="4.4" height="27" fill="#0e6b3f"/><rect x="1621.36" y="329" width="2.4" height="25" fill="#22bb74"/><rect x="1625.22" y="319" width="4.4" height="10" fill="#0e6b3f"/><rect x="1626.22" y="320" width="2.4" height="8" fill="#22bb74"/><rect x="1630.08" y="318" width="4.4" height="17" fill="#8a2a20"/><rect x="1631.08" y="319" width="2.4" height="15" fill="#f26f60"/><rect x="1634.95" y="324" width="4.4" height="14" fill="#0e6b3f"/><rect x="1635.95" y="325" width="2.4" height="12" fill="#22bb74"/><rect x="1639.81" y="306" width="4.4" height="17" fill="#0e6b3f"/><rect x="1640.81" y="307" width="2.4" height="15" fill="#22bb74"/><rect x="1644.67" y="300" width="4.4" height="5" fill="#0e6b3f"/><rect x="1645.67" y="301" width="2.4" height="3" fill="#22bb74"/><rect x="1649.53" y="254" width="4.4" height="39" fill="#0e6b3f"/><rect x="1650.53" y="255" width="2.4" height="37" fill="#22bb74"/><rect x="1654.39" y="256" width="4.4" height="41" fill="#8a2a20"/><rect x="1655.39" y="257" width="2.4" height="39" fill="#f26f60"/><rect x="1659.25" y="298" width="4.4" height="32" fill="#0e6b3f"/><rect x="1660.25" y="299" width="2.4" height="30" fill="#22bb74"/><rect x="1664.11" y="273" width="4.4" height="17" fill="#0e6b3f"/><rect x="1665.11" y="274" width="2.4" height="15" fill="#22bb74"/><rect x="1668.97" y="253" width="4.4" height="20" fill="#0e6b3f"/><rect x="1669.97" y="254" width="2.4" height="18" fill="#22bb74"/><rect x="1673.83" y="247" width="4.4" height="24" fill="#8a2a20"/><rect x="1674.83" y="248" width="2.4" height="22" fill="#f26f60"/><rect x="1678.69" y="269" width="4.4" height="2" fill="#8a2a20"/><rect x="1683.55" y="244" width="4.4" height="20" fill="#0e6b3f"/><rect x="1684.55" y="245" width="2.4" height="18" fill="#22bb74"/><rect x="1688.41" y="231" width="4.4" height="13" fill="#0e6b3f"/><rect x="1689.41" y="232" width="2.4" height="11" fill="#22bb74"/><rect x="1693.27" y="227" width="4.4" height="9" fill="#8a2a20"/><rect x="1694.27" y="228" width="2.4" height="7" fill="#f26f60"/><rect x="1698.13" y="223" width="4.4" height="13" fill="#0e6b3f"/><rect x="1699.13" y="224" width="2.4" height="11" fill="#22bb74"/><rect x="1702.99" y="216" width="4.4" height="16" fill="#8a2a20"/><rect x="1703.99" y="217" width="2.4" height="14" fill="#f26f60"/><rect x="1707.86" y="235" width="4.4" height="13" fill="#8a2a20"/><rect x="1708.86" y="236" width="2.4" height="11" fill="#f26f60"/><rect x="1712.72" y="216" width="4.4" height="34" fill="#0e6b3f"/><rect x="1713.72" y="217" width="2.4" height="32" fill="#22bb74"/><rect x="1717.58" y="214" width="4.4" height="2" fill="#0e6b3f"/><rect x="1722.44" y="216" width="4.4" height="6" fill="#8a2a20"/><rect x="1723.44" y="217" width="2.4" height="4" fill="#f26f60"/><rect x="1727.30" y="223" width="4.4" height="1" fill="#0e6b3f"/><rect x="1732.16" y="222" width="4.4" height="2" fill="#8a2a20"/><rect x="1737.02" y="209" width="4.4" height="7" fill="#0e6b3f"/><rect x="1738.02" y="210" width="2.4" height="5" fill="#22bb74"/><rect x="1741.88" y="163" width="4.4" height="28" fill="#0e6b3f"/><rect x="1742.88" y="164" width="2.4" height="26" fill="#22bb74"/><rect x="1746.74" y="123" width="4.4" height="36" fill="#0e6b3f"/><rect x="1747.74" y="124" width="2.4" height="34" fill="#22bb74"/><rect x="1751.60" y="124" width="4.4" height="23" fill="#8a2a20"/><rect x="1752.60" y="125" width="2.4" height="21" fill="#f26f60"/><rect x="1756.46" y="126" width="4.4" height="15" fill="#0e6b3f"/><rect x="1757.46" y="127" width="2.4" height="13" fill="#22bb74"/><rect x="1761.32" y="126" width="4.4" height="18" fill="#8a2a20"/><rect x="1762.32" y="127" width="2.4" height="16" fill="#f26f60"/><rect x="1766.18" y="144" width="4.4" height="18" fill="#8a2a20"/><rect x="1767.18" y="145" width="2.4" height="16" fill="#f26f60"/><rect x="1771.04" y="160" width="4.4" height="13" fill="#8a2a20"/><rect x="1772.04" y="161" width="2.4" height="11" fill="#f26f60"/><rect x="1775.91" y="169" width="4.4" height="41" fill="#8a2a20"/><rect x="1776.91" y="170" width="2.4" height="39" fill="#f26f60"/><rect x="1780.77" y="205" width="4.4" height="3" fill="#8a2a20"/><rect x="1781.77" y="206" width="2.4" height="1" fill="#f26f60"/><rect x="1785.63" y="206" width="4.4" height="1" fill="#8a2a20"/><rect x="1790.49" y="210" width="4.4" height="47" fill="#8a2a20"/><rect x="1791.49" y="211" width="2.4" height="45" fill="#f26f60"/></g><circle cx="271.7" cy="596.8" r="6.6" fill="#168cec"/><text x="272.0" y="600.1999999999999" font-family="'Liberation Sans', Arial, sans-serif" font-size="9.5" fill="#ffffff" font-weight="bold" text-anchor="middle" >P</text><circle cx="416.6" cy="625.6" r="6.6" fill="#168cec"/><text x="416.90000000000003" y="629.0" font-family="'Liberation Sans', Arial, sans-serif" font-size="9.5" fill="#ffffff" font-weight="bold" text-anchor="middle" >P</text><circle cx="427.9" cy="623.7" r="6.6" fill="#168cec"/><text x="428.2" y="627.1" font-family="'Liberation Sans', Arial, sans-serif" font-size="9.5" fill="#ffffff" font-weight="bold" text-anchor="middle" >P</text><circle cx="437.4" cy="613.8" r="6.6" fill="#168cec"/><text x="437.7" y="617.1999999999999" font-family="'Liberation Sans', Arial, sans-serif" font-size="9.5" fill="#ffffff" font-weight="bold" text-anchor="middle" >P</text><circle cx="538.3" cy="598.4" r="6.6" fill="#168cec"/><text x="538.5999999999999" y="601.8" font-family="'Liberation Sans', Arial, sans-serif" font-size="9.5" fill="#ffffff" font-weight="bold" text-anchor="middle" >P</text><circle cx="543.6" cy="592.5" r="6.6" fill="#168cec"/><text x="543.9" y="595.9" font-family="'Liberation Sans', Arial, sans-serif" font-size="9.5" fill="#ffffff" font-weight="bold" text-anchor="middle" >P</text><circle cx="1784.3" cy="175.5" r="6.6" fill="#168cec"/><text x="1784.6" y="178.9" font-family="'Liberation Sans', Arial, sans-serif" font-size="9.5" fill="#ffffff" font-weight="bold" text-anchor="middle" >P</text></g><g clip-path="url(#vp)"><line x1="1127.5" y1="701" x2="1127.5" y2="902" stroke="#ababab" stroke-dasharray="5 5"/><g shape-rendering="crispEdges"><rect x="3" y="878" width="5" height="13" fill="#f4b1ac"/><rect x="4" y="879" width="4" height="12" fill="#fdc7c3"/><rect x="8" y="872" width="4" height="19" fill="#7bd3aa"/><rect x="9" y="873" width="3" height="18" fill="#a3eece"/><rect x="12" y="872" width="5" height="19" fill="#f4b1ac"/><rect x="13" y="873" width="4" height="18" fill="#fdc7c3"/><rect x="17" y="882" width="5" height="9" fill="#7bd3aa"/><rect x="18" y="883" width="4" height="8" fill="#a3eece"/><rect x="22" y="879" width="5" height="12" fill="#f4b1ac"/><rect x="23" y="880" width="4" height="11" fill="#fdc7c3"/><rect x="27" y="874" width="5" height="17" fill="#f4b1ac"/><rect x="28" y="875" width="4" height="16" fill="#fdc7c3"/><rect x="32" y="878" width="5" height="13" fill="#7bd3aa"/><rect x="33" y="879" width="4" height="12" fill="#a3eece"/><rect x="37" y="879" width="5" height="12" fill="#f4b1ac"/><rect x="38" y="880" width="4" height="11" fill="#fdc7c3"/><rect x="42" y="869" width="4" height="22" fill="#f4b1ac"/><rect x="43" y="870" width="3" height="21" fill="#fdc7c3"/><rect x="46" y="853" width="5" height="38" fill="#7bd3aa"/><rect x="47" y="854" width="4" height="37" fill="#a3eece"/><rect x="51" y="867" width="5" height="24" fill="#7bd3aa"/><rect x="52" y="868" width="4" height="23" fill="#a3eece"/><rect x="56" y="876" width="5" height="15" fill="#f4b1ac"/><rect x="57" y="877" width="4" height="14" fill="#fdc7c3"/><rect x="61" y="875" width="5" height="16" fill="#f4b1ac"/><rect x="62" y="876" width="4" height="15" fill="#fdc7c3"/><rect x="66" y="887" width="5" height="4" fill="#f4b1ac"/><rect x="67" y="888" width="4" height="3" fill="#fdc7c3"/><rect x="71" y="885" width="5" height="6" fill="#7bd3aa"/><rect x="72" y="886" width="4" height="5" fill="#a3eece"/><rect x="76" y="880" width="4" height="11" fill="#7bd3aa"/><rect x="77" y="881" width="3" height="10" fill="#a3eece"/><rect x="80" y="878" width="5" height="13" fill="#7bd3aa"/><rect x="81" y="879" width="4" height="12" fill="#a3eece"/><rect x="85" y="880" width="5" height="11" fill="#7bd3aa"/><rect x="86" y="881" width="4" height="10" fill="#a3eece"/><rect x="90" y="880" width="5" height="11" fill="#7bd3aa"/><rect x="91" y="881" width="4" height="10" fill="#a3eece"/><rect x="95" y="870" width="5" height="21" fill="#7bd3aa"/><rect x="96" y="871" width="4" height="20" fill="#a3eece"/><rect x="100" y="879" width="5" height="12" fill="#f4b1ac"/><rect x="101" y="880" width="4" height="11" fill="#fdc7c3"/><rect x="105" y="871" width="5" height="20" fill="#7bd3aa"/><rect x="106" y="872" width="4" height="19" fill="#a3eece"/><rect x="110" y="864" width="4" height="27" fill="#7bd3aa"/><rect x="111" y="865" width="3" height="26" fill="#a3eece"/><rect x="114" y="875" width="5" height="16" fill="#f4b1ac"/><rect x="115" y="876" width="4" height="15" fill="#fdc7c3"/><rect x="119" y="868" width="5" height="23" fill="#7bd3aa"/><rect x="120" y="869" width="4" height="22" fill="#a3eece"/><rect x="124" y="870" width="5" height="21" fill="#f4b1ac"/><rect x="125" y="871" width="4" height="20" fill="#fdc7c3"/><rect x="129" y="872" width="5" height="19" fill="#7bd3aa"/><rect x="130" y="873" width="4" height="18" fill="#a3eece"/><rect x="134" y="867" width="5" height="24" fill="#7bd3aa"/><rect x="135" y="868" width="4" height="23" fill="#a3eece"/><rect x="139" y="875" width="5" height="16" fill="#7bd3aa"/><rect x="140" y="876" width="4" height="15" fill="#a3eece"/><rect x="144" y="877" width="4" height="14" fill="#f4b1ac"/><rect x="145" y="878" width="3" height="13" fill="#fdc7c3"/><rect x="148" y="884" width="5" height="7" fill="#f4b1ac"/><rect x="149" y="885" width="4" height="6" fill="#fdc7c3"/><rect x="153" y="875" width="5" height="16" fill="#7bd3aa"/><rect x="154" y="876" width="4" height="15" fill="#a3eece"/><rect x="158" y="869" width="5" height="22" fill="#f4b1ac"/><rect x="159" y="870" width="4" height="21" fill="#fdc7c3"/><rect x="163" y="867" width="5" height="24" fill="#f4b1ac"/><rect x="164" y="868" width="4" height="23" fill="#fdc7c3"/><rect x="168" y="878" width="5" height="13" fill="#f4b1ac"/><rect x="169" y="879" width="4" height="12" fill="#fdc7c3"/><rect x="173" y="860" width="5" height="31" fill="#7bd3aa"/><rect x="174" y="861" width="4" height="30" fill="#a3eece"/><rect x="178" y="865" width="5" height="26" fill="#7bd3aa"/><rect x="179" y="866" width="4" height="25" fill="#a3eece"/><rect x="183" y="861" width="4" height="30" fill="#7bd3aa"/><rect x="184" y="862" width="3" height="29" fill="#a3eece"/><rect x="187" y="870" width="5" height="21" fill="#7bd3aa"/><rect x="188" y="871" width="4" height="20" fill="#a3eece"/><rect x="192" y="868" width="5" height="23" fill="#f4b1ac"/><rect x="193" y="869" width="4" height="22" fill="#fdc7c3"/><rect x="197" y="864" width="5" height="27" fill="#7bd3aa"/><rect x="198" y="865" width="4" height="26" fill="#a3eece"/><rect x="202" y="869" width="5" height="22" fill="#f4b1ac"/><rect x="203" y="870" width="4" height="21" fill="#fdc7c3"/><rect x="207" y="867" width="5" height="24" fill="#7bd3aa"/><rect x="208" y="868" width="4" height="23" fill="#a3eece"/><rect x="212" y="874" width="5" height="17" fill="#f4b1ac"/><rect x="213" y="875" width="4" height="16" fill="#fdc7c3"/><rect x="217" y="875" width="4" height="16" fill="#f4b1ac"/><rect x="218" y="876" width="3" height="15" fill="#fdc7c3"/><rect x="221" y="861" width="5" height="30" fill="#f4b1ac"/><rect x="222" y="862" width="4" height="29" fill="#fdc7c3"/><rect x="226" y="871" width="5" height="20" fill="#f4b1ac"/><rect x="227" y="872" width="4" height="19" fill="#fdc7c3"/><rect x="231" y="877" width="5" height="14" fill="#7bd3aa"/><rect x="232" y="878" width="4" height="13" fill="#a3eece"/><rect x="236" y="871" width="5" height="20" fill="#7bd3aa"/><rect x="237" y="872" width="4" height="19" fill="#a3eece"/><rect x="241" y="877" width="5" height="14" fill="#f4b1ac"/><rect x="242" y="878" width="4" height="13" fill="#fdc7c3"/><rect x="246" y="878" width="5" height="13" fill="#f4b1ac"/><rect x="247" y="879" width="4" height="12" fill="#fdc7c3"/><rect x="251" y="872" width="4" height="19" fill="#7bd3aa"/><rect x="252" y="873" width="3" height="18" fill="#a3eece"/><rect x="255" y="873" width="5" height="18" fill="#f4b1ac"/><rect x="256" y="874" width="4" height="17" fill="#fdc7c3"/><rect x="260" y="859" width="5" height="32" fill="#f4b1ac"/><rect x="261" y="860" width="4" height="31" fill="#fdc7c3"/><rect x="265" y="873" width="5" height="18" fill="#7bd3aa"/><rect x="266" y="874" width="4" height="17" fill="#a3eece"/><rect x="270" y="875" width="5" height="16" fill="#7bd3aa"/><rect x="271" y="876" width="4" height="15" fill="#a3eece"/><rect x="275" y="873" width="5" height="18" fill="#7bd3aa"/><rect x="276" y="874" width="4" height="17" fill="#a3eece"/><rect x="280" y="873" width="5" height="18" fill="#f4b1ac"/><rect x="281" y="874" width="4" height="17" fill="#fdc7c3"/><rect x="285" y="880" width="4" height="11" fill="#f4b1ac"/><rect x="286" y="881" width="3" height="10" fill="#fdc7c3"/><rect x="289" y="877" width="5" height="14" fill="#f4b1ac"/><rect x="290" y="878" width="4" height="13" fill="#fdc7c3"/><rect x="294" y="875" width="5" height="16" fill="#f4b1ac"/><rect x="295" y="876" width="4" height="15" fill="#fdc7c3"/><rect x="299" y="868" width="5" height="23" fill="#7bd3aa"/><rect x="300" y="869" width="4" height="22" fill="#a3eece"/><rect x="304" y="872" width="5" height="19" fill="#f4b1ac"/><rect x="305" y="873" width="4" height="18" fill="#fdc7c3"/><rect x="309" y="868" width="5" height="23" fill="#7bd3aa"/><rect x="310" y="869" width="4" height="22" fill="#a3eece"/><rect x="314" y="865" width="5" height="26" fill="#f4b1ac"/><rect x="315" y="866" width="4" height="25" fill="#fdc7c3"/><rect x="319" y="886" width="4" height="5" fill="#7bd3aa"/><rect x="320" y="887" width="3" height="4" fill="#a3eece"/><rect x="323" y="878" width="5" height="13" fill="#7bd3aa"/><rect x="324" y="879" width="4" height="12" fill="#a3eece"/><rect x="328" y="872" width="5" height="19" fill="#f4b1ac"/><rect x="329" y="873" width="4" height="18" fill="#fdc7c3"/><rect x="333" y="868" width="5" height="23" fill="#7bd3aa"/><rect x="334" y="869" width="4" height="22" fill="#a3eece"/><rect x="338" y="865" width="5" height="26" fill="#7bd3aa"/><rect x="339" y="866" width="4" height="25" fill="#a3eece"/><rect x="343" y="862" width="5" height="29" fill="#f4b1ac"/><rect x="344" y="863" width="4" height="28" fill="#fdc7c3"/><rect x="348" y="866" width="5" height="25" fill="#7bd3aa"/><rect x="349" y="867" width="4" height="24" fill="#a3eece"/><rect x="353" y="870" width="5" height="21" fill="#f4b1ac"/><rect x="354" y="871" width="4" height="20" fill="#fdc7c3"/><rect x="358" y="860" width="4" height="31" fill="#f4b1ac"/><rect x="359" y="861" width="3" height="30" fill="#fdc7c3"/><rect x="362" y="795" width="5" height="96" fill="#f4b1ac"/><rect x="363" y="796" width="4" height="95" fill="#fdc7c3"/><rect x="367" y="837" width="5" height="54" fill="#f4b1ac"/><rect x="368" y="838" width="4" height="53" fill="#fdc7c3"/><rect x="372" y="819" width="5" height="72" fill="#7bd3aa"/><rect x="373" y="820" width="4" height="71" fill="#a3eece"/><rect x="377" y="845" width="5" height="46" fill="#7bd3aa"/><rect x="378" y="846" width="4" height="45" fill="#a3eece"/><rect x="382" y="862" width="5" height="29" fill="#7bd3aa"/><rect x="383" y="863" width="4" height="28" fill="#a3eece"/><rect x="387" y="862" width="5" height="29" fill="#f4b1ac"/><rect x="388" y="863" width="4" height="28" fill="#fdc7c3"/><rect x="392" y="863" width="4" height="28" fill="#7bd3aa"/><rect x="393" y="864" width="3" height="27" fill="#a3eece"/><rect x="396" y="879" width="5" height="12" fill="#7bd3aa"/><rect x="397" y="880" width="4" height="11" fill="#a3eece"/><rect x="401" y="878" width="5" height="13" fill="#f4b1ac"/><rect x="402" y="879" width="4" height="12" fill="#fdc7c3"/><rect x="406" y="872" width="5" height="19" fill="#f4b1ac"/><rect x="407" y="873" width="4" height="18" fill="#fdc7c3"/><rect x="411" y="865" width="5" height="26" fill="#7bd3aa"/><rect x="412" y="866" width="4" height="25" fill="#a3eece"/><rect x="416" y="864" width="5" height="27" fill="#f4b1ac"/><rect x="417" y="865" width="4" height="26" fill="#fdc7c3"/><rect x="421" y="870" width="5" height="21" fill="#7bd3aa"/><rect x="422" y="871" width="4" height="20" fill="#a3eece"/><rect x="426" y="856" width="4" height="35" fill="#7bd3aa"/><rect x="427" y="857" width="3" height="34" fill="#a3eece"/><rect x="430" y="853" width="5" height="38" fill="#7bd3aa"/><rect x="431" y="854" width="4" height="37" fill="#a3eece"/><rect x="435" y="868" width="5" height="23" fill="#f4b1ac"/><rect x="436" y="869" width="4" height="22" fill="#fdc7c3"/><rect x="440" y="870" width="5" height="21" fill="#7bd3aa"/><rect x="441" y="871" width="4" height="20" fill="#a3eece"/><rect x="445" y="870" width="5" height="21" fill="#f4b1ac"/><rect x="446" y="871" width="4" height="20" fill="#fdc7c3"/><rect x="450" y="878" width="5" height="13" fill="#7bd3aa"/><rect x="451" y="879" width="4" height="12" fill="#a3eece"/><rect x="455" y="874" width="5" height="17" fill="#f4b1ac"/><rect x="456" y="875" width="4" height="16" fill="#fdc7c3"/><rect x="460" y="875" width="4" height="16" fill="#7bd3aa"/><rect x="461" y="876" width="3" height="15" fill="#a3eece"/><rect x="464" y="866" width="5" height="25" fill="#7bd3aa"/><rect x="465" y="867" width="4" height="24" fill="#a3eece"/><rect x="469" y="870" width="5" height="21" fill="#7bd3aa"/><rect x="470" y="871" width="4" height="20" fill="#a3eece"/><rect x="474" y="874" width="5" height="17" fill="#7bd3aa"/><rect x="475" y="875" width="4" height="16" fill="#a3eece"/><rect x="479" y="878" width="5" height="13" fill="#f4b1ac"/><rect x="480" y="879" width="4" height="12" fill="#fdc7c3"/><rect x="484" y="878" width="5" height="13" fill="#f4b1ac"/><rect x="485" y="879" width="4" height="12" fill="#fdc7c3"/><rect x="489" y="880" width="5" height="11" fill="#7bd3aa"/><rect x="490" y="881" width="4" height="10" fill="#a3eece"/><rect x="494" y="876" width="4" height="15" fill="#7bd3aa"/><rect x="495" y="877" width="3" height="14" fill="#a3eece"/><rect x="498" y="855" width="5" height="36" fill="#7bd3aa"/><rect x="499" y="856" width="4" height="35" fill="#a3eece"/><rect x="503" y="865" width="5" height="26" fill="#7bd3aa"/><rect x="504" y="866" width="4" height="25" fill="#a3eece"/><rect x="508" y="870" width="5" height="21" fill="#7bd3aa"/><rect x="509" y="871" width="4" height="20" fill="#a3eece"/><rect x="513" y="863" width="5" height="28" fill="#7bd3aa"/><rect x="514" y="864" width="4" height="27" fill="#a3eece"/><rect x="518" y="861" width="5" height="30" fill="#7bd3aa"/><rect x="519" y="862" width="4" height="29" fill="#a3eece"/><rect x="523" y="860" width="5" height="31" fill="#f4b1ac"/><rect x="524" y="861" width="4" height="30" fill="#fdc7c3"/><rect x="528" y="870" width="4" height="21" fill="#7bd3aa"/><rect x="529" y="871" width="3" height="20" fill="#a3eece"/><rect x="532" y="854" width="5" height="37" fill="#f4b1ac"/><rect x="533" y="855" width="4" height="36" fill="#fdc7c3"/><rect x="537" y="861" width="5" height="30" fill="#7bd3aa"/><rect x="538" y="862" width="4" height="29" fill="#a3eece"/><rect x="542" y="861" width="5" height="30" fill="#7bd3aa"/><rect x="543" y="862" width="4" height="29" fill="#a3eece"/><rect x="547" y="852" width="5" height="39" fill="#7bd3aa"/><rect x="548" y="853" width="4" height="38" fill="#a3eece"/><rect x="552" y="865" width="5" height="26" fill="#7bd3aa"/><rect x="553" y="866" width="4" height="25" fill="#a3eece"/><rect x="557" y="849" width="5" height="42" fill="#7bd3aa"/><rect x="558" y="850" width="4" height="41" fill="#a3eece"/><rect x="562" y="860" width="5" height="31" fill="#7bd3aa"/><rect x="563" y="861" width="4" height="30" fill="#a3eece"/><rect x="567" y="868" width="4" height="23" fill="#7bd3aa"/><rect x="568" y="869" width="3" height="22" fill="#a3eece"/><rect x="571" y="878" width="5" height="13" fill="#7bd3aa"/><rect x="572" y="879" width="4" height="12" fill="#a3eece"/><rect x="576" y="879" width="5" height="12" fill="#7bd3aa"/><rect x="577" y="880" width="4" height="11" fill="#a3eece"/><rect x="581" y="869" width="5" height="22" fill="#7bd3aa"/><rect x="582" y="870" width="4" height="21" fill="#a3eece"/><rect x="586" y="874" width="5" height="17" fill="#f4b1ac"/><rect x="587" y="875" width="4" height="16" fill="#fdc7c3"/><rect x="591" y="878" width="5" height="13" fill="#7bd3aa"/><rect x="592" y="879" width="4" height="12" fill="#a3eece"/><rect x="596" y="862" width="5" height="29" fill="#f4b1ac"/><rect x="597" y="863" width="4" height="28" fill="#fdc7c3"/><rect x="601" y="872" width="4" height="19" fill="#7bd3aa"/><rect x="602" y="873" width="3" height="18" fill="#a3eece"/><rect x="605" y="877" width="5" height="14" fill="#7bd3aa"/><rect x="606" y="878" width="4" height="13" fill="#a3eece"/><rect x="610" y="872" width="5" height="19" fill="#7bd3aa"/><rect x="611" y="873" width="4" height="18" fill="#a3eece"/><rect x="615" y="876" width="5" height="15" fill="#7bd3aa"/><rect x="616" y="877" width="4" height="14" fill="#a3eece"/><rect x="620" y="878" width="5" height="13" fill="#7bd3aa"/><rect x="621" y="879" width="4" height="12" fill="#a3eece"/><rect x="625" y="873" width="5" height="18" fill="#7bd3aa"/><rect x="626" y="874" width="4" height="17" fill="#a3eece"/><rect x="630" y="876" width="5" height="15" fill="#f4b1ac"/><rect x="631" y="877" width="4" height="14" fill="#fdc7c3"/><rect x="635" y="875" width="4" height="16" fill="#7bd3aa"/><rect x="636" y="876" width="3" height="15" fill="#a3eece"/><rect x="639" y="879" width="5" height="12" fill="#7bd3aa"/><rect x="640" y="880" width="4" height="11" fill="#a3eece"/><rect x="644" y="879" width="5" height="12" fill="#7bd3aa"/><rect x="645" y="880" width="4" height="11" fill="#a3eece"/><rect x="649" y="872" width="5" height="19" fill="#7bd3aa"/><rect x="650" y="873" width="4" height="18" fill="#a3eece"/><rect x="654" y="868" width="5" height="23" fill="#7bd3aa"/><rect x="655" y="869" width="4" height="22" fill="#a3eece"/><rect x="659" y="876" width="5" height="15" fill="#7bd3aa"/><rect x="660" y="877" width="4" height="14" fill="#a3eece"/><rect x="664" y="878" width="5" height="13" fill="#7bd3aa"/><rect x="665" y="879" width="4" height="12" fill="#a3eece"/><rect x="669" y="874" width="4" height="17" fill="#f4b1ac"/><rect x="670" y="875" width="3" height="16" fill="#fdc7c3"/><rect x="673" y="877" width="5" height="14" fill="#f4b1ac"/><rect x="674" y="878" width="4" height="13" fill="#fdc7c3"/><rect x="678" y="875" width="5" height="16" fill="#7bd3aa"/><rect x="679" y="876" width="4" height="15" fill="#a3eece"/><rect x="683" y="882" width="5" height="9" fill="#7bd3aa"/><rect x="684" y="883" width="4" height="8" fill="#a3eece"/><rect x="688" y="880" width="5" height="11" fill="#f4b1ac"/><rect x="689" y="881" width="4" height="10" fill="#fdc7c3"/><rect x="693" y="870" width="5" height="21" fill="#7bd3aa"/><rect x="694" y="871" width="4" height="20" fill="#a3eece"/><rect x="698" y="879" width="5" height="12" fill="#f4b1ac"/><rect x="699" y="880" width="4" height="11" fill="#fdc7c3"/><rect x="703" y="880" width="4" height="11" fill="#f4b1ac"/><rect x="704" y="881" width="3" height="10" fill="#fdc7c3"/><rect x="707" y="877" width="5" height="14" fill="#f4b1ac"/><rect x="708" y="878" width="4" height="13" fill="#fdc7c3"/><rect x="712" y="879" width="5" height="12" fill="#f4b1ac"/><rect x="713" y="880" width="4" height="11" fill="#fdc7c3"/><rect x="717" y="875" width="5" height="16" fill="#f4b1ac"/><rect x="718" y="876" width="4" height="15" fill="#fdc7c3"/><rect x="722" y="870" width="5" height="21" fill="#7bd3aa"/><rect x="723" y="871" width="4" height="20" fill="#a3eece"/><rect x="727" y="878" width="5" height="13" fill="#f4b1ac"/><rect x="728" y="879" width="4" height="12" fill="#fdc7c3"/><rect x="732" y="873" width="5" height="18" fill="#7bd3aa"/><rect x="733" y="874" width="4" height="17" fill="#a3eece"/><rect x="737" y="878" width="4" height="13" fill="#f4b1ac"/><rect x="738" y="879" width="3" height="12" fill="#fdc7c3"/><rect x="741" y="875" width="5" height="16" fill="#7bd3aa"/><rect x="742" y="876" width="4" height="15" fill="#a3eece"/><rect x="746" y="875" width="5" height="16" fill="#7bd3aa"/><rect x="747" y="876" width="4" height="15" fill="#a3eece"/><rect x="751" y="873" width="5" height="18" fill="#f4b1ac"/><rect x="752" y="874" width="4" height="17" fill="#fdc7c3"/><rect x="756" y="866" width="5" height="25" fill="#f4b1ac"/><rect x="757" y="867" width="4" height="24" fill="#fdc7c3"/><rect x="761" y="860" width="5" height="31" fill="#f4b1ac"/><rect x="762" y="861" width="4" height="30" fill="#fdc7c3"/><rect x="766" y="860" width="5" height="31" fill="#7bd3aa"/><rect x="767" y="861" width="4" height="30" fill="#a3eece"/><rect x="771" y="870" width="5" height="21" fill="#7bd3aa"/><rect x="772" y="871" width="4" height="20" fill="#a3eece"/><rect x="776" y="877" width="4" height="14" fill="#f4b1ac"/><rect x="777" y="878" width="3" height="13" fill="#fdc7c3"/><rect x="780" y="877" width="5" height="14" fill="#7bd3aa"/><rect x="781" y="878" width="4" height="13" fill="#a3eece"/><rect x="785" y="881" width="5" height="10" fill="#7bd3aa"/><rect x="786" y="882" width="4" height="9" fill="#a3eece"/><rect x="790" y="879" width="5" height="12" fill="#f4b1ac"/><rect x="791" y="880" width="4" height="11" fill="#fdc7c3"/><rect x="795" y="875" width="5" height="16" fill="#f4b1ac"/><rect x="796" y="876" width="4" height="15" fill="#fdc7c3"/><rect x="800" y="880" width="5" height="11" fill="#f4b1ac"/><rect x="801" y="881" width="4" height="10" fill="#fdc7c3"/><rect x="805" y="876" width="5" height="15" fill="#f4b1ac"/><rect x="806" y="877" width="4" height="14" fill="#fdc7c3"/><rect x="810" y="875" width="4" height="16" fill="#7bd3aa"/><rect x="811" y="876" width="3" height="15" fill="#a3eece"/><rect x="814" y="878" width="5" height="13" fill="#7bd3aa"/><rect x="815" y="879" width="4" height="12" fill="#a3eece"/><rect x="819" y="869" width="5" height="22" fill="#f4b1ac"/><rect x="820" y="870" width="4" height="21" fill="#fdc7c3"/><rect x="824" y="881" width="5" height="10" fill="#7bd3aa"/><rect x="825" y="882" width="4" height="9" fill="#a3eece"/><rect x="829" y="878" width="5" height="13" fill="#f4b1ac"/><rect x="830" y="879" width="4" height="12" fill="#fdc7c3"/><rect x="834" y="880" width="5" height="11" fill="#f4b1ac"/><rect x="835" y="881" width="4" height="10" fill="#fdc7c3"/><rect x="839" y="865" width="5" height="26" fill="#7bd3aa"/><rect x="840" y="866" width="4" height="25" fill="#a3eece"/><rect x="844" y="872" width="4" height="19" fill="#f4b1ac"/><rect x="845" y="873" width="3" height="18" fill="#fdc7c3"/><rect x="848" y="863" width="5" height="28" fill="#f4b1ac"/><rect x="849" y="864" width="4" height="27" fill="#fdc7c3"/><rect x="853" y="872" width="5" height="19" fill="#7bd3aa"/><rect x="854" y="873" width="4" height="18" fill="#a3eece"/><rect x="858" y="869" width="5" height="22" fill="#7bd3aa"/><rect x="859" y="870" width="4" height="21" fill="#a3eece"/><rect x="863" y="867" width="5" height="24" fill="#7bd3aa"/><rect x="864" y="868" width="4" height="23" fill="#a3eece"/><rect x="868" y="856" width="5" height="35" fill="#f4b1ac"/><rect x="869" y="857" width="4" height="34" fill="#fdc7c3"/><rect x="873" y="856" width="5" height="35" fill="#f4b1ac"/><rect x="874" y="857" width="4" height="34" fill="#fdc7c3"/><rect x="878" y="867" width="4" height="24" fill="#7bd3aa"/><rect x="879" y="868" width="3" height="23" fill="#a3eece"/><rect x="882" y="868" width="5" height="23" fill="#f4b1ac"/><rect x="883" y="869" width="4" height="22" fill="#fdc7c3"/><rect x="887" y="878" width="5" height="13" fill="#f4b1ac"/><rect x="888" y="879" width="4" height="12" fill="#fdc7c3"/><rect x="892" y="873" width="5" height="18" fill="#7bd3aa"/><rect x="893" y="874" width="4" height="17" fill="#a3eece"/><rect x="897" y="871" width="5" height="20" fill="#7bd3aa"/><rect x="898" y="872" width="4" height="19" fill="#a3eece"/><rect x="902" y="861" width="5" height="30" fill="#7bd3aa"/><rect x="903" y="862" width="4" height="29" fill="#a3eece"/><rect x="907" y="758" width="5" height="133" fill="#7bd3aa"/><rect x="908" y="759" width="4" height="132" fill="#a3eece"/><rect x="912" y="855" width="4" height="36" fill="#f4b1ac"/><rect x="913" y="856" width="3" height="35" fill="#fdc7c3"/><rect x="916" y="854" width="5" height="37" fill="#f4b1ac"/><rect x="917" y="855" width="4" height="36" fill="#fdc7c3"/><rect x="921" y="829" width="5" height="62" fill="#7bd3aa"/><rect x="922" y="830" width="4" height="61" fill="#a3eece"/><rect x="926" y="844" width="5" height="47" fill="#f4b1ac"/><rect x="927" y="845" width="4" height="46" fill="#fdc7c3"/><rect x="931" y="849" width="5" height="42" fill="#7bd3aa"/><rect x="932" y="850" width="4" height="41" fill="#a3eece"/><rect x="936" y="725" width="5" height="166" fill="#f4b1ac"/><rect x="937" y="726" width="4" height="165" fill="#fdc7c3"/><rect x="941" y="869" width="5" height="22" fill="#f4b1ac"/><rect x="942" y="870" width="4" height="21" fill="#fdc7c3"/><rect x="946" y="856" width="5" height="35" fill="#f4b1ac"/><rect x="947" y="857" width="4" height="34" fill="#fdc7c3"/><rect x="951" y="875" width="4" height="16" fill="#7bd3aa"/><rect x="952" y="876" width="3" height="15" fill="#a3eece"/><rect x="955" y="871" width="5" height="20" fill="#f4b1ac"/><rect x="956" y="872" width="4" height="19" fill="#fdc7c3"/><rect x="960" y="853" width="5" height="38" fill="#7bd3aa"/><rect x="961" y="854" width="4" height="37" fill="#a3eece"/><rect x="965" y="877" width="5" height="14" fill="#f4b1ac"/><rect x="966" y="878" width="4" height="13" fill="#fdc7c3"/><rect x="970" y="868" width="5" height="23" fill="#7bd3aa"/><rect x="971" y="869" width="4" height="22" fill="#a3eece"/><rect x="975" y="873" width="5" height="18" fill="#7bd3aa"/><rect x="976" y="874" width="4" height="17" fill="#a3eece"/><rect x="980" y="874" width="5" height="17" fill="#f4b1ac"/><rect x="981" y="875" width="4" height="16" fill="#fdc7c3"/><rect x="985" y="867" width="4" height="24" fill="#7bd3aa"/><rect x="986" y="868" width="3" height="23" fill="#a3eece"/><rect x="989" y="875" width="5" height="16" fill="#7bd3aa"/><rect x="990" y="876" width="4" height="15" fill="#a3eece"/><rect x="994" y="872" width="5" height="19" fill="#7bd3aa"/><rect x="995" y="873" width="4" height="18" fill="#a3eece"/><rect x="999" y="863" width="5" height="28" fill="#f4b1ac"/><rect x="1000" y="864" width="4" height="27" fill="#fdc7c3"/><rect x="1004" y="858" width="5" height="33" fill="#f4b1ac"/><rect x="1005" y="859" width="4" height="32" fill="#fdc7c3"/><rect x="1009" y="860" width="5" height="31" fill="#f4b1ac"/><rect x="1010" y="861" width="4" height="30" fill="#fdc7c3"/><rect x="1014" y="876" width="5" height="15" fill="#f4b1ac"/><rect x="1015" y="877" width="4" height="14" fill="#fdc7c3"/><rect x="1019" y="853" width="4" height="38" fill="#7bd3aa"/><rect x="1020" y="854" width="3" height="37" fill="#a3eece"/><rect x="1023" y="870" width="5" height="21" fill="#7bd3aa"/><rect x="1024" y="871" width="4" height="20" fill="#a3eece"/><rect x="1028" y="866" width="5" height="25" fill="#7bd3aa"/><rect x="1029" y="867" width="4" height="24" fill="#a3eece"/><rect x="1033" y="865" width="5" height="26" fill="#7bd3aa"/><rect x="1034" y="866" width="4" height="25" fill="#a3eece"/><rect x="1038" y="870" width="5" height="21" fill="#7bd3aa"/><rect x="1039" y="871" width="4" height="20" fill="#a3eece"/><rect x="1043" y="874" width="5" height="17" fill="#7bd3aa"/><rect x="1044" y="875" width="4" height="16" fill="#a3eece"/><rect x="1048" y="877" width="5" height="14" fill="#f4b1ac"/><rect x="1049" y="878" width="4" height="13" fill="#fdc7c3"/><rect x="1053" y="878" width="4" height="13" fill="#f4b1ac"/><rect x="1054" y="879" width="3" height="12" fill="#fdc7c3"/><rect x="1057" y="873" width="5" height="18" fill="#7bd3aa"/><rect x="1058" y="874" width="4" height="17" fill="#a3eece"/><rect x="1062" y="862" width="5" height="29" fill="#7bd3aa"/><rect x="1063" y="863" width="4" height="28" fill="#a3eece"/><rect x="1067" y="867" width="5" height="24" fill="#7bd3aa"/><rect x="1068" y="868" width="4" height="23" fill="#a3eece"/><rect x="1072" y="862" width="5" height="29" fill="#7bd3aa"/><rect x="1073" y="863" width="4" height="28" fill="#a3eece"/><rect x="1077" y="879" width="5" height="12" fill="#7bd3aa"/><rect x="1078" y="880" width="4" height="11" fill="#a3eece"/><rect x="1082" y="881" width="5" height="10" fill="#7bd3aa"/><rect x="1083" y="882" width="4" height="9" fill="#a3eece"/><rect x="1087" y="882" width="4" height="9" fill="#7bd3aa"/><rect x="1088" y="883" width="3" height="8" fill="#a3eece"/><rect x="1091" y="820" width="5" height="71" fill="#f4b1ac"/><rect x="1092" y="821" width="4" height="70" fill="#fdc7c3"/><rect x="1096" y="851" width="5" height="40" fill="#7bd3aa"/><rect x="1097" y="852" width="4" height="39" fill="#a3eece"/><rect x="1101" y="849" width="5" height="42" fill="#7bd3aa"/><rect x="1102" y="850" width="4" height="41" fill="#a3eece"/><rect x="1106" y="862" width="5" height="29" fill="#7bd3aa"/><rect x="1107" y="863" width="4" height="28" fill="#a3eece"/><rect x="1111" y="863" width="5" height="28" fill="#7bd3aa"/><rect x="1112" y="864" width="4" height="27" fill="#a3eece"/><rect x="1116" y="850" width="5" height="41" fill="#7bd3aa"/><rect x="1117" y="851" width="4" height="40" fill="#a3eece"/><rect x="1121" y="868" width="4" height="23" fill="#f4b1ac"/><rect x="1122" y="869" width="3" height="22" fill="#fdc7c3"/><rect x="1125" y="868" width="5" height="23" fill="#f4b1ac"/><rect x="1126" y="869" width="4" height="22" fill="#fdc7c3"/><rect x="1130" y="868" width="5" height="23" fill="#f4b1ac"/><rect x="1131" y="869" width="4" height="22" fill="#fdc7c3"/><rect x="1135" y="859" width="5" height="32" fill="#7bd3aa"/><rect x="1136" y="860" width="4" height="31" fill="#a3eece"/><rect x="1140" y="866" width="5" height="25" fill="#7bd3aa"/><rect x="1141" y="867" width="4" height="24" fill="#a3eece"/><rect x="1145" y="873" width="5" height="18" fill="#7bd3aa"/><rect x="1146" y="874" width="4" height="17" fill="#a3eece"/><rect x="1150" y="880" width="5" height="11" fill="#7bd3aa"/><rect x="1151" y="881" width="4" height="10" fill="#a3eece"/><rect x="1155" y="873" width="5" height="18" fill="#7bd3aa"/><rect x="1156" y="874" width="4" height="17" fill="#a3eece"/><rect x="1160" y="877" width="4" height="14" fill="#f4b1ac"/><rect x="1161" y="878" width="3" height="13" fill="#fdc7c3"/><rect x="1164" y="878" width="5" height="13" fill="#f4b1ac"/><rect x="1165" y="879" width="4" height="12" fill="#fdc7c3"/><rect x="1169" y="869" width="5" height="22" fill="#f4b1ac"/><rect x="1170" y="870" width="4" height="21" fill="#fdc7c3"/><rect x="1174" y="866" width="5" height="25" fill="#7bd3aa"/><rect x="1175" y="867" width="4" height="24" fill="#a3eece"/><rect x="1179" y="868" width="5" height="23" fill="#7bd3aa"/><rect x="1180" y="869" width="4" height="22" fill="#a3eece"/><rect x="1184" y="869" width="5" height="22" fill="#7bd3aa"/><rect x="1185" y="870" width="4" height="21" fill="#a3eece"/><rect x="1189" y="860" width="5" height="31" fill="#f4b1ac"/><rect x="1190" y="861" width="4" height="30" fill="#fdc7c3"/><rect x="1194" y="876" width="4" height="15" fill="#7bd3aa"/><rect x="1195" y="877" width="3" height="14" fill="#a3eece"/><rect x="1198" y="872" width="5" height="19" fill="#7bd3aa"/><rect x="1199" y="873" width="4" height="18" fill="#a3eece"/><rect x="1203" y="873" width="5" height="18" fill="#7bd3aa"/><rect x="1204" y="874" width="4" height="17" fill="#a3eece"/><rect x="1208" y="878" width="5" height="13" fill="#f4b1ac"/><rect x="1209" y="879" width="4" height="12" fill="#fdc7c3"/><rect x="1213" y="877" width="5" height="14" fill="#f4b1ac"/><rect x="1214" y="878" width="4" height="13" fill="#fdc7c3"/><rect x="1218" y="868" width="5" height="23" fill="#7bd3aa"/><rect x="1219" y="869" width="4" height="22" fill="#a3eece"/><rect x="1223" y="870" width="5" height="21" fill="#7bd3aa"/><rect x="1224" y="871" width="4" height="20" fill="#a3eece"/><rect x="1228" y="872" width="4" height="19" fill="#7bd3aa"/><rect x="1229" y="873" width="3" height="18" fill="#a3eece"/><rect x="1232" y="868" width="5" height="23" fill="#7bd3aa"/><rect x="1233" y="869" width="4" height="22" fill="#a3eece"/><rect x="1237" y="878" width="5" height="13" fill="#f4b1ac"/><rect x="1238" y="879" width="4" height="12" fill="#fdc7c3"/><rect x="1242" y="880" width="5" height="11" fill="#f4b1ac"/><rect x="1243" y="881" width="4" height="10" fill="#fdc7c3"/><rect x="1247" y="878" width="5" height="13" fill="#7bd3aa"/><rect x="1248" y="879" width="4" height="12" fill="#a3eece"/><rect x="1252" y="876" width="5" height="15" fill="#f4b1ac"/><rect x="1253" y="877" width="4" height="14" fill="#fdc7c3"/><rect x="1257" y="879" width="5" height="12" fill="#f4b1ac"/><rect x="1258" y="880" width="4" height="11" fill="#fdc7c3"/><rect x="1262" y="870" width="4" height="21" fill="#7bd3aa"/><rect x="1263" y="871" width="3" height="20" fill="#a3eece"/><rect x="1266" y="874" width="5" height="17" fill="#f4b1ac"/><rect x="1267" y="875" width="4" height="16" fill="#fdc7c3"/><rect x="1271" y="876" width="5" height="15" fill="#f4b1ac"/><rect x="1272" y="877" width="4" height="14" fill="#fdc7c3"/><rect x="1276" y="870" width="5" height="21" fill="#f4b1ac"/><rect x="1277" y="871" width="4" height="20" fill="#fdc7c3"/><rect x="1281" y="850" width="5" height="41" fill="#7bd3aa"/><rect x="1282" y="851" width="4" height="40" fill="#a3eece"/><rect x="1286" y="872" width="5" height="19" fill="#7bd3aa"/><rect x="1287" y="873" width="4" height="18" fill="#a3eece"/><rect x="1291" y="866" width="5" height="25" fill="#f4b1ac"/><rect x="1292" y="867" width="4" height="24" fill="#fdc7c3"/><rect x="1296" y="874" width="4" height="17" fill="#7bd3aa"/><rect x="1297" y="875" width="3" height="16" fill="#a3eece"/><rect x="1300" y="879" width="5" height="12" fill="#f4b1ac"/><rect x="1301" y="880" width="4" height="11" fill="#fdc7c3"/><rect x="1305" y="875" width="5" height="16" fill="#f4b1ac"/><rect x="1306" y="876" width="4" height="15" fill="#fdc7c3"/><rect x="1310" y="876" width="5" height="15" fill="#7bd3aa"/><rect x="1311" y="877" width="4" height="14" fill="#a3eece"/><rect x="1315" y="861" width="5" height="30" fill="#7bd3aa"/><rect x="1316" y="862" width="4" height="29" fill="#a3eece"/><rect x="1320" y="883" width="5" height="8" fill="#f4b1ac"/><rect x="1321" y="884" width="4" height="7" fill="#fdc7c3"/><rect x="1325" y="875" width="5" height="16" fill="#7bd3aa"/><rect x="1326" y="876" width="4" height="15" fill="#a3eece"/><rect x="1330" y="881" width="5" height="10" fill="#f4b1ac"/><rect x="1331" y="882" width="4" height="9" fill="#fdc7c3"/><rect x="1335" y="886" width="4" height="5" fill="#7bd3aa"/><rect x="1336" y="887" width="3" height="4" fill="#a3eece"/><rect x="1339" y="883" width="5" height="8" fill="#7bd3aa"/><rect x="1340" y="884" width="4" height="7" fill="#a3eece"/><rect x="1344" y="881" width="5" height="10" fill="#7bd3aa"/><rect x="1345" y="882" width="4" height="9" fill="#a3eece"/><rect x="1349" y="874" width="5" height="17" fill="#7bd3aa"/><rect x="1350" y="875" width="4" height="16" fill="#a3eece"/><rect x="1354" y="876" width="5" height="15" fill="#7bd3aa"/><rect x="1355" y="877" width="4" height="14" fill="#a3eece"/><rect x="1359" y="874" width="5" height="17" fill="#f4b1ac"/><rect x="1360" y="875" width="4" height="16" fill="#fdc7c3"/><rect x="1364" y="881" width="5" height="10" fill="#f4b1ac"/><rect x="1365" y="882" width="4" height="9" fill="#fdc7c3"/><rect x="1369" y="878" width="4" height="13" fill="#f4b1ac"/><rect x="1370" y="879" width="3" height="12" fill="#fdc7c3"/><rect x="1373" y="879" width="5" height="12" fill="#f4b1ac"/><rect x="1374" y="880" width="4" height="11" fill="#fdc7c3"/><rect x="1378" y="873" width="5" height="18" fill="#f4b1ac"/><rect x="1379" y="874" width="4" height="17" fill="#fdc7c3"/><rect x="1383" y="881" width="5" height="10" fill="#7bd3aa"/><rect x="1384" y="882" width="4" height="9" fill="#a3eece"/><rect x="1388" y="867" width="5" height="24" fill="#7bd3aa"/><rect x="1389" y="868" width="4" height="23" fill="#a3eece"/><rect x="1393" y="883" width="5" height="8" fill="#f4b1ac"/><rect x="1394" y="884" width="4" height="7" fill="#fdc7c3"/><rect x="1398" y="882" width="5" height="9" fill="#f4b1ac"/><rect x="1399" y="883" width="4" height="8" fill="#fdc7c3"/><rect x="1403" y="871" width="4" height="20" fill="#f4b1ac"/><rect x="1404" y="872" width="3" height="19" fill="#fdc7c3"/><rect x="1407" y="862" width="5" height="29" fill="#7bd3aa"/><rect x="1408" y="863" width="4" height="28" fill="#a3eece"/><rect x="1412" y="863" width="5" height="28" fill="#7bd3aa"/><rect x="1413" y="864" width="4" height="27" fill="#a3eece"/><rect x="1417" y="861" width="5" height="30" fill="#7bd3aa"/><rect x="1418" y="862" width="4" height="29" fill="#a3eece"/><rect x="1422" y="882" width="5" height="9" fill="#f4b1ac"/><rect x="1423" y="883" width="4" height="8" fill="#fdc7c3"/><rect x="1427" y="878" width="5" height="13" fill="#7bd3aa"/><rect x="1428" y="879" width="4" height="12" fill="#a3eece"/><rect x="1432" y="879" width="5" height="12" fill="#f4b1ac"/><rect x="1433" y="880" width="4" height="11" fill="#fdc7c3"/><rect x="1437" y="722" width="4" height="169" fill="#f4b1ac"/><rect x="1438" y="723" width="3" height="168" fill="#fdc7c3"/><rect x="1441" y="853" width="5" height="38" fill="#f4b1ac"/><rect x="1442" y="854" width="4" height="37" fill="#fdc7c3"/><rect x="1446" y="874" width="5" height="17" fill="#7bd3aa"/><rect x="1447" y="875" width="4" height="16" fill="#a3eece"/><rect x="1451" y="874" width="5" height="17" fill="#f4b1ac"/><rect x="1452" y="875" width="4" height="16" fill="#fdc7c3"/><rect x="1456" y="873" width="5" height="18" fill="#7bd3aa"/><rect x="1457" y="874" width="4" height="17" fill="#a3eece"/><rect x="1461" y="877" width="5" height="14" fill="#f4b1ac"/><rect x="1462" y="878" width="4" height="13" fill="#fdc7c3"/><rect x="1466" y="878" width="5" height="13" fill="#7bd3aa"/><rect x="1467" y="879" width="4" height="12" fill="#a3eece"/><rect x="1471" y="877" width="4" height="14" fill="#f4b1ac"/><rect x="1472" y="878" width="3" height="13" fill="#fdc7c3"/><rect x="1475" y="878" width="5" height="13" fill="#f4b1ac"/><rect x="1476" y="879" width="4" height="12" fill="#fdc7c3"/><rect x="1480" y="880" width="5" height="11" fill="#7bd3aa"/><rect x="1481" y="881" width="4" height="10" fill="#a3eece"/><rect x="1485" y="876" width="5" height="15" fill="#f4b1ac"/><rect x="1486" y="877" width="4" height="14" fill="#fdc7c3"/><rect x="1490" y="869" width="5" height="22" fill="#7bd3aa"/><rect x="1491" y="870" width="4" height="21" fill="#a3eece"/><rect x="1495" y="882" width="5" height="9" fill="#7bd3aa"/><rect x="1496" y="883" width="4" height="8" fill="#a3eece"/><rect x="1500" y="882" width="5" height="9" fill="#7bd3aa"/><rect x="1501" y="883" width="4" height="8" fill="#a3eece"/><rect x="1505" y="879" width="4" height="12" fill="#f4b1ac"/><rect x="1506" y="880" width="3" height="11" fill="#fdc7c3"/><rect x="1509" y="883" width="5" height="8" fill="#7bd3aa"/><rect x="1510" y="884" width="4" height="7" fill="#a3eece"/><rect x="1514" y="881" width="5" height="10" fill="#f4b1ac"/><rect x="1515" y="882" width="4" height="9" fill="#fdc7c3"/><rect x="1519" y="876" width="5" height="15" fill="#7bd3aa"/><rect x="1520" y="877" width="4" height="14" fill="#a3eece"/><rect x="1524" y="876" width="5" height="15" fill="#7bd3aa"/><rect x="1525" y="877" width="4" height="14" fill="#a3eece"/><rect x="1529" y="878" width="5" height="13" fill="#f4b1ac"/><rect x="1530" y="879" width="4" height="12" fill="#fdc7c3"/><rect x="1534" y="875" width="5" height="16" fill="#f4b1ac"/><rect x="1535" y="876" width="4" height="15" fill="#fdc7c3"/><rect x="1539" y="867" width="5" height="24" fill="#7bd3aa"/><rect x="1540" y="868" width="4" height="23" fill="#a3eece"/><rect x="1544" y="876" width="4" height="15" fill="#f4b1ac"/><rect x="1545" y="877" width="3" height="14" fill="#fdc7c3"/><rect x="1548" y="874" width="5" height="17" fill="#f4b1ac"/><rect x="1549" y="875" width="4" height="16" fill="#fdc7c3"/><rect x="1553" y="877" width="5" height="14" fill="#7bd3aa"/><rect x="1554" y="878" width="4" height="13" fill="#a3eece"/><rect x="1558" y="877" width="5" height="14" fill="#7bd3aa"/><rect x="1559" y="878" width="4" height="13" fill="#a3eece"/><rect x="1563" y="876" width="5" height="15" fill="#f4b1ac"/><rect x="1564" y="877" width="4" height="14" fill="#fdc7c3"/><rect x="1568" y="876" width="5" height="15" fill="#f4b1ac"/><rect x="1569" y="877" width="4" height="14" fill="#fdc7c3"/><rect x="1573" y="872" width="5" height="19" fill="#7bd3aa"/><rect x="1574" y="873" width="4" height="18" fill="#a3eece"/><rect x="1578" y="869" width="4" height="22" fill="#7bd3aa"/><rect x="1579" y="870" width="3" height="21" fill="#a3eece"/><rect x="1582" y="876" width="5" height="15" fill="#f4b1ac"/><rect x="1583" y="877" width="4" height="14" fill="#fdc7c3"/><rect x="1587" y="888" width="5" height="3" fill="#f4b1ac"/><rect x="1588" y="889" width="4" height="2" fill="#fdc7c3"/><rect x="1592" y="885" width="5" height="6" fill="#7bd3aa"/><rect x="1593" y="886" width="4" height="5" fill="#a3eece"/><rect x="1597" y="881" width="5" height="10" fill="#f4b1ac"/><rect x="1598" y="882" width="4" height="9" fill="#fdc7c3"/><rect x="1602" y="861" width="5" height="30" fill="#f4b1ac"/><rect x="1603" y="862" width="4" height="29" fill="#fdc7c3"/><rect x="1607" y="855" width="5" height="36" fill="#7bd3aa"/><rect x="1608" y="856" width="4" height="35" fill="#a3eece"/><rect x="1612" y="875" width="4" height="16" fill="#7bd3aa"/><rect x="1613" y="876" width="3" height="15" fill="#a3eece"/><rect x="1616" y="871" width="5" height="20" fill="#f4b1ac"/><rect x="1617" y="872" width="4" height="19" fill="#fdc7c3"/><rect x="1621" y="868" width="5" height="23" fill="#7bd3aa"/><rect x="1622" y="869" width="4" height="22" fill="#a3eece"/><rect x="1626" y="868" width="5" height="23" fill="#7bd3aa"/><rect x="1627" y="869" width="4" height="22" fill="#a3eece"/><rect x="1631" y="865" width="5" height="26" fill="#f4b1ac"/><rect x="1632" y="866" width="4" height="25" fill="#fdc7c3"/><rect x="1636" y="876" width="5" height="15" fill="#7bd3aa"/><rect x="1637" y="877" width="4" height="14" fill="#a3eece"/><rect x="1641" y="872" width="5" height="19" fill="#7bd3aa"/><rect x="1642" y="873" width="4" height="18" fill="#a3eece"/><rect x="1646" y="858" width="4" height="33" fill="#7bd3aa"/><rect x="1647" y="859" width="3" height="32" fill="#a3eece"/><rect x="1650" y="855" width="5" height="36" fill="#7bd3aa"/><rect x="1651" y="856" width="4" height="35" fill="#a3eece"/><rect x="1655" y="855" width="5" height="36" fill="#f4b1ac"/><rect x="1656" y="856" width="4" height="35" fill="#fdc7c3"/><rect x="1660" y="843" width="5" height="48" fill="#7bd3aa"/><rect x="1661" y="844" width="4" height="47" fill="#a3eece"/><rect x="1665" y="871" width="5" height="20" fill="#7bd3aa"/><rect x="1666" y="872" width="4" height="19" fill="#a3eece"/><rect x="1670" y="870" width="5" height="21" fill="#7bd3aa"/><rect x="1671" y="871" width="4" height="20" fill="#a3eece"/><rect x="1675" y="868" width="5" height="23" fill="#f4b1ac"/><rect x="1676" y="869" width="4" height="22" fill="#fdc7c3"/><rect x="1680" y="877" width="4" height="14" fill="#f4b1ac"/><rect x="1681" y="878" width="3" height="13" fill="#fdc7c3"/><rect x="1684" y="870" width="5" height="21" fill="#7bd3aa"/><rect x="1685" y="871" width="4" height="20" fill="#a3eece"/><rect x="1689" y="858" width="5" height="33" fill="#7bd3aa"/><rect x="1690" y="859" width="4" height="32" fill="#a3eece"/><rect x="1694" y="850" width="5" height="41" fill="#f4b1ac"/><rect x="1695" y="851" width="4" height="40" fill="#fdc7c3"/><rect x="1699" y="875" width="5" height="16" fill="#7bd3aa"/><rect x="1700" y="876" width="4" height="15" fill="#a3eece"/><rect x="1704" y="880" width="5" height="11" fill="#f4b1ac"/><rect x="1705" y="881" width="4" height="10" fill="#fdc7c3"/><rect x="1709" y="869" width="5" height="22" fill="#f4b1ac"/><rect x="1710" y="870" width="4" height="21" fill="#fdc7c3"/><rect x="1714" y="862" width="4" height="29" fill="#7bd3aa"/><rect x="1715" y="863" width="3" height="28" fill="#a3eece"/><rect x="1718" y="858" width="5" height="33" fill="#7bd3aa"/><rect x="1719" y="859" width="4" height="32" fill="#a3eece"/><rect x="1723" y="862" width="5" height="29" fill="#f4b1ac"/><rect x="1724" y="863" width="4" height="28" fill="#fdc7c3"/><rect x="1728" y="866" width="5" height="25" fill="#7bd3aa"/><rect x="1729" y="867" width="4" height="24" fill="#a3eece"/><rect x="1733" y="866" width="5" height="25" fill="#f4b1ac"/><rect x="1734" y="867" width="4" height="24" fill="#fdc7c3"/><rect x="1738" y="872" width="5" height="19" fill="#7bd3aa"/><rect x="1739" y="873" width="4" height="18" fill="#a3eece"/><rect x="1743" y="853" width="5" height="38" fill="#7bd3aa"/><rect x="1744" y="854" width="4" height="37" fill="#a3eece"/><rect x="1748" y="869" width="5" height="22" fill="#7bd3aa"/><rect x="1749" y="870" width="4" height="21" fill="#a3eece"/><rect x="1753" y="878" width="4" height="13" fill="#f4b1ac"/><rect x="1754" y="879" width="3" height="12" fill="#fdc7c3"/><rect x="1757" y="878" width="5" height="13" fill="#7bd3aa"/><rect x="1758" y="879" width="4" height="12" fill="#a3eece"/><rect x="1762" y="881" width="5" height="10" fill="#f4b1ac"/><rect x="1763" y="882" width="4" height="9" fill="#fdc7c3"/><rect x="1767" y="868" width="5" height="23" fill="#f4b1ac"/><rect x="1768" y="869" width="4" height="22" fill="#fdc7c3"/><rect x="1772" y="867" width="5" height="24" fill="#f4b1ac"/><rect x="1773" y="868" width="4" height="23" fill="#fdc7c3"/><rect x="1777" y="862" width="5" height="29" fill="#f4b1ac"/><rect x="1778" y="863" width="4" height="28" fill="#fdc7c3"/><rect x="1782" y="874" width="5" height="17" fill="#f4b1ac"/><rect x="1783" y="875" width="4" height="16" fill="#fdc7c3"/><rect x="1787" y="871" width="4" height="20" fill="#f4b1ac"/><rect x="1788" y="872" width="3" height="19" fill="#fdc7c3"/><rect x="1791" y="849" width="5" height="42" fill="#f4b1ac"/><rect x="1792" y="850" width="4" height="41" fill="#fdc7c3"/></g><polyline points="48.2,872.5 53.1,872.3 58.0,872.5 62.8,872.7 67.7,873.5 72.5,874.2 77.4,874.7 82.3,875.0 87.1,875.4 92.0,875.9 96.9,875.9 101.7,875.9 106.6,875.9 111.4,875.5 116.3,875.1 121.2,874.6 126.0,874.3 130.9,874.0 135.7,873.4 140.6,873.7 145.5,874.9 150.3,875.7 155.2,875.7 160.0,875.4 164.9,874.4 169.8,874.0 174.6,873.0 179.5,872.4 184.3,871.5 189.2,871.0 194.1,870.9 198.9,870.1 203.8,870.0 208.6,870.1 213.5,870.1 218.4,870.5 223.2,870.0 228.1,870.0 233.0,870.5 237.8,870.3 242.7,870.3 247.5,870.0 252.4,869.9 257.3,870.1 262.1,869.6 267.0,869.4 271.8,870.2 276.7,870.5 281.6,871.1 286.4,871.6 291.3,872.1 296.1,872.6 301.0,872.6 305.9,872.9 310.7,872.6 315.6,872.1 320.4,873.4 325.3,873.7 330.2,873.5 335.0,873.3 339.9,872.7 344.7,871.9 349.6,871.6 354.5,871.5 359.3,871.5 364.2,867.6 369.1,865.7 373.9,863.0 378.8,861.6 383.6,860.7 388.5,860.0 393.4,859.4 398.2,859.9 403.1,860.2 407.9,860.4 412.8,860.4 417.7,859.3 422.5,858.9 427.4,858.1 432.2,857.4 437.1,857.5 442.0,857.9 446.8,858.1 451.7,858.5 456.5,859.2 461.4,863.2 466.3,864.6 471.1,867.1 476.0,868.6 480.8,869.4 485.7,870.2 490.6,871.0 495.4,870.9 500.3,869.7 505.2,869.4 510.0,869.6 514.9,869.5 519.7,869.1 524.6,869.2 529.5,870.0 534.3,869.3 539.2,868.9 544.0,868.4 548.9,867.1 553.8,866.7 558.6,865.4 563.5,865.1 568.3,865.0 573.2,865.2 578.1,865.3 582.9,864.8 587.8,864.5 592.6,864.6 597.5,864.9 602.4,865.2 607.2,865.6 612.1,866.1 616.9,866.9 621.8,867.8 626.7,868.0 631.5,869.1 636.4,869.8 641.3,870.7 646.1,872.0 651.0,872.4 655.8,873.3 660.7,874.1 665.6,874.6 670.4,874.5 675.3,874.3 680.1,874.6 685.0,875.0 689.9,875.1 694.7,875.5 699.6,875.9 704.4,876.1 709.3,876.3 714.2,876.4 719.0,876.3 723.9,876.1 728.7,876.2 733.6,876.1 738.5,876.0 743.3,875.9 748.2,876.0 753.0,876.2 757.9,875.7 762.8,874.8 767.6,874.1 772.5,873.8 777.4,873.9 782.2,873.6 787.1,873.7 791.9,874.1 796.8,873.9 801.7,873.9 806.5,873.9 811.4,873.7 816.2,873.8 821.1,873.8 826.0,874.0 830.8,874.2 835.7,874.3 840.5,873.8 845.4,873.7 850.3,873.2 855.1,873.5 860.0,874.0 864.8,874.3 869.7,873.7 874.6,872.6 879.4,872.1 884.3,871.5 889.1,871.4 894.0,871.4 898.9,870.9 903.7,870.1 908.6,864.3 913.5,863.1 918.3,862.4 923.2,859.8 928.0,858.1 932.9,856.5 937.8,849.5 942.6,849.3 947.5,849.0 952.3,849.1 957.2,849.2 962.1,848.5 966.9,849.5 971.8,850.1 976.6,850.4 981.5,850.8 986.4,850.2 991.2,850.3 996.1,850.4 1000.9,850.5 1005.8,855.5 1010.7,855.8 1015.5,856.9 1020.4,858.1 1025.2,859.3 1030.1,860.2 1035.0,867.2 1039.8,867.3 1044.7,868.2 1049.6,868.2 1054.4,868.6 1059.3,869.6 1064.1,868.9 1069.0,868.8 1073.9,868.3 1078.7,868.5 1083.6,869.2 1088.4,869.6 1093.3,867.0 1098.2,866.4 1103.0,865.9 1107.9,866.0 1112.7,865.3 1117.6,865.2 1122.5,865.1 1127.3,865.2 1132.2,865.4 1137.0,864.8 1141.9,864.4 1146.8,864.2 1151.6,864.3 1156.5,864.3 1161.3,865.1 1166.2,865.6 1171.1,865.9 1175.9,865.3 1180.8,864.6 1185.7,863.9 1190.5,865.9 1195.4,867.2 1200.2,868.3 1205.1,868.9 1210.0,869.6 1214.8,870.9 1219.7,870.9 1224.5,871.0 1229.4,871.2 1234.3,871.7 1239.1,872.2 1244.0,872.6 1248.8,872.5 1253.7,872.7 1258.6,872.8 1263.4,872.4 1268.3,872.7 1273.1,873.2 1278.0,873.2 1282.9,872.3 1287.7,872.9 1292.6,872.4 1297.4,872.5 1302.3,872.9 1307.2,872.7 1312.0,872.7 1316.9,872.3 1321.7,873.0 1326.6,873.2 1331.5,873.8 1336.3,874.2 1341.2,874.4 1346.1,874.5 1350.9,874.4 1355.8,874.3 1360.6,874.5 1365.5,874.8 1370.4,874.9 1375.2,875.4 1380.1,876.6 1384.9,877.0 1389.8,877.0 1394.7,877.5 1399.5,877.6 1404.4,877.4 1409.2,876.7 1414.1,876.8 1419.0,875.7 1423.8,876.1 1428.7,876.0 1433.5,875.6 1438.4,867.5 1443.3,866.1 1448.1,866.1 1453.0,866.0 1457.8,866.0 1462.7,865.8 1467.6,865.8 1472.4,865.6 1477.3,865.9 1482.2,865.8 1487.0,866.3 1491.9,865.6 1496.7,865.6 1501.6,866.1 1506.5,867.0 1511.3,868.0 1516.2,869.0 1521.0,868.6 1525.9,868.5 1530.8,868.5 1535.6,876.1 1540.5,876.8 1545.3,876.9 1550.2,876.9 1555.1,877.1 1559.9,877.1 1564.8,877.0 1569.6,877.0 1574.5,876.7 1579.4,876.1 1584.2,876.1 1589.1,877.1 1593.9,877.2 1598.8,877.2 1603.7,876.3 1608.5,874.9 1613.4,874.6 1618.3,874.3 1623.1,874.0 1628.0,873.4 1632.8,872.9 1637.7,873.4 1642.6,873.2 1647.4,872.4 1652.3,871.3 1657.1,870.2 1662.0,868.5 1666.9,868.3 1671.7,868.1 1676.6,868.1 1681.4,868.2 1686.3,867.3 1691.2,865.9 1696.0,864.3 1700.9,865.0 1705.7,866.3 1710.6,866.0 1715.5,865.6 1720.3,865.1 1725.2,864.8 1730.0,864.8 1734.9,864.3 1739.8,864.3 1744.6,864.1 1749.5,864.8 1754.4,865.9 1759.2,867.7 1764.1,868.2 1768.9,868.2 1773.8,868.1 1778.7,867.4 1783.5,867.6 1788.4,868.2 1793.2,868.2" fill="none" stroke="#000" stroke-opacity="0.4" stroke-width="2" stroke-linejoin="round"/></g><line x1="1820.5" y1="36" x2="1820.5" y2="902.5" stroke="#555" /><line x1="3" y1="700.5" x2="1865" y2="700.5" stroke="#444" /><line x1="3" y1="902.5" x2="1821" y2="902.5" stroke="#555" /><g stroke="#e8161f" stroke-width="4.2" stroke-linecap="round" fill="none"><line x1="1020.5" y1="572.3" x2="1824" y2="300.5"/><line x1="1574" y1="388" x2="1821.5" y2="246"/></g><line x1="1820.5" y1="43.4" x2="1824" y2="43.4" stroke="#555"/><text x="1826.4" y="47" font-family="'Liberation Sans', Arial, sans-serif" font-size="11" fill="#5a5a5a" font-weight="normal" text-anchor="start"  textLength="34.6" lengthAdjust="spacingAndGlyphs">62.5000</text><line x1="1820.5" y1="70.4" x2="1824" y2="70.4" stroke="#555"/><text x="1826.4" y="74" font-family="'Liberation Sans', Arial, sans-serif" font-size="11" fill="#5a5a5a" font-weight="normal" text-anchor="start"  textLength="34.6" lengthAdjust="spacingAndGlyphs">60.0000</text><line x1="1820.5" y1="97.5" x2="1824" y2="97.5" stroke="#555"/><text x="1826.4" y="101" font-family="'Liberation Sans', Arial, sans-serif" font-size="11" fill="#5a5a5a" font-weight="normal" text-anchor="start"  textLength="34.6" lengthAdjust="spacingAndGlyphs">57.5000</text><line x1="1820.5" y1="124.5" x2="1824" y2="124.5" stroke="#555"/><text x="1826.4" y="129" font-family="'Liberation Sans', Arial, sans-serif" font-size="11" fill="#5a5a5a" font-weight="normal" text-anchor="start"  textLength="34.6" lengthAdjust="spacingAndGlyphs">55.0000</text><line x1="1820.5" y1="151.5" x2="1824" y2="151.5" stroke="#555"/><text x="1826.4" y="156" font-family="'Liberation Sans', Arial, sans-serif" font-size="11" fill="#5a5a5a" font-weight="normal" text-anchor="start"  textLength="34.6" lengthAdjust="spacingAndGlyphs">52.5000</text><line x1="1820.5" y1="178.6" x2="1824" y2="178.6" stroke="#555"/><text x="1826.4" y="183" font-family="'Liberation Sans', Arial, sans-serif" font-size="11" fill="#5a5a5a" font-weight="normal" text-anchor="start"  textLength="34.6" lengthAdjust="spacingAndGlyphs">50.0000</text><line x1="1820.5" y1="205.6" x2="1824" y2="205.6" stroke="#555"/><text x="1826.4" y="210" font-family="'Liberation Sans', Arial, sans-serif" font-size="11" fill="#5a5a5a" font-weight="normal" text-anchor="start"  textLength="34.6" lengthAdjust="spacingAndGlyphs">47.5000</text><line x1="1820.5" y1="232.7" x2="1824" y2="232.7" stroke="#555"/><text x="1826.4" y="237" font-family="'Liberation Sans', Arial, sans-serif" font-size="11" fill="#5a5a5a" font-weight="normal" text-anchor="start"  textLength="34.6" lengthAdjust="spacingAndGlyphs">45.0000</text><line x1="1820.5" y1="259.7" x2="1824" y2="259.7" stroke="#555"/><text x="1826.4" y="264" font-family="'Liberation Sans', Arial, sans-serif" font-size="11" fill="#5a5a5a" font-weight="normal" text-anchor="start"  textLength="34.6" lengthAdjust="spacingAndGlyphs">42.5000</text><line x1="1820.5" y1="286.7" x2="1824" y2="286.7" stroke="#555"/><text x="1826.4" y="291" font-family="'Liberation Sans', Arial, sans-serif" font-size="11" fill="#5a5a5a" font-weight="normal" text-anchor="start"  textLength="34.6" lengthAdjust="spacingAndGlyphs">40.0000</text><line x1="1820.5" y1="313.8" x2="1824" y2="313.8" stroke="#555"/><text x="1826.4" y="318" font-family="'Liberation Sans', Arial, sans-serif" font-size="11" fill="#5a5a5a" font-weight="normal" text-anchor="start"  textLength="34.6" lengthAdjust="spacingAndGlyphs">37.5000</text><line x1="1820.5" y1="340.8" x2="1824" y2="340.8" stroke="#555"/><text x="1826.4" y="345" font-family="'Liberation Sans', Arial, sans-serif" font-size="11" fill="#5a5a5a" font-weight="normal" text-anchor="start"  textLength="34.6" lengthAdjust="spacingAndGlyphs">35.0000</text><line x1="1820.5" y1="367.8" x2="1824" y2="367.8" stroke="#555"/><text x="1826.4" y="372" font-family="'Liberation Sans', Arial, sans-serif" font-size="11" fill="#5a5a5a" font-weight="normal" text-anchor="start"  textLength="34.6" lengthAdjust="spacingAndGlyphs">32.5000</text><line x1="1820.5" y1="394.9" x2="1824" y2="394.9" stroke="#555"/><text x="1826.4" y="399" font-family="'Liberation Sans', Arial, sans-serif" font-size="11" fill="#5a5a5a" font-weight="normal" text-anchor="start"  textLength="34.6" lengthAdjust="spacingAndGlyphs">30.0000</text><line x1="1820.5" y1="421.9" x2="1824" y2="421.9" stroke="#555"/><text x="1826.4" y="426" font-family="'Liberation Sans', Arial, sans-serif" font-size="11" fill="#5a5a5a" font-weight="normal" text-anchor="start"  textLength="34.6" lengthAdjust="spacingAndGlyphs">27.5000</text><line x1="1820.5" y1="449.0" x2="1824" y2="449.0" stroke="#555"/><text x="1826.4" y="453" font-family="'Liberation Sans', Arial, sans-serif" font-size="11" fill="#5a5a5a" font-weight="normal" text-anchor="start"  textLength="34.6" lengthAdjust="spacingAndGlyphs">25.0000</text><line x1="1820.5" y1="476.0" x2="1824" y2="476.0" stroke="#555"/><text x="1826.4" y="480" font-family="'Liberation Sans', Arial, sans-serif" font-size="11" fill="#5a5a5a" font-weight="normal" text-anchor="start"  textLength="34.6" lengthAdjust="spacingAndGlyphs">22.5000</text><line x1="1820.5" y1="503.0" x2="1824" y2="503.0" stroke="#555"/><text x="1826.4" y="507" font-family="'Liberation Sans', Arial, sans-serif" font-size="11" fill="#5a5a5a" font-weight="normal" text-anchor="start"  textLength="34.6" lengthAdjust="spacingAndGlyphs">20.0000</text><line x1="1820.5" y1="530.1" x2="1824" y2="530.1" stroke="#555"/><text x="1826.4" y="534" font-family="'Liberation Sans', Arial, sans-serif" font-size="11" fill="#5a5a5a" font-weight="normal" text-anchor="start"  textLength="34.6" lengthAdjust="spacingAndGlyphs">17.5000</text><line x1="1820.5" y1="557.1" x2="1824" y2="557.1" stroke="#555"/><text x="1826.4" y="561" font-family="'Liberation Sans', Arial, sans-serif" font-size="11" fill="#5a5a5a" font-weight="normal" text-anchor="start"  textLength="34.6" lengthAdjust="spacingAndGlyphs">15.0000</text><line x1="1820.5" y1="584.1" x2="1824" y2="584.1" stroke="#555"/><text x="1826.4" y="588" font-family="'Liberation Sans', Arial, sans-serif" font-size="11" fill="#5a5a5a" font-weight="normal" text-anchor="start"  textLength="34.6" lengthAdjust="spacingAndGlyphs">12.5000</text><line x1="1820.5" y1="611.2" x2="1824" y2="611.2" stroke="#555"/><text x="1826.4" y="615" font-family="'Liberation Sans', Arial, sans-serif" font-size="11" fill="#5a5a5a" font-weight="normal" text-anchor="start"  textLength="34.6" lengthAdjust="spacingAndGlyphs">10.0000</text><line x1="1820.5" y1="638.2" x2="1824" y2="638.2" stroke="#555"/><text x="1826.4" y="642" font-family="'Liberation Sans', Arial, sans-serif" font-size="11" fill="#5a5a5a" font-weight="normal" text-anchor="start"  textLength="28.8" lengthAdjust="spacingAndGlyphs">7.5000</text><line x1="1820.5" y1="665.3" x2="1824" y2="665.3" stroke="#555"/><text x="1826.4" y="669" font-family="'Liberation Sans', Arial, sans-serif" font-size="11" fill="#5a5a5a" font-weight="normal" text-anchor="start"  textLength="28.8" lengthAdjust="spacingAndGlyphs">5.0000</text><line x1="1820.5" y1="692.3" x2="1824" y2="692.3" stroke="#555"/><text x="1826.4" y="696" font-family="'Liberation Sans', Arial, sans-serif" font-size="11" fill="#5a5a5a" font-weight="normal" text-anchor="start"  textLength="28.8" lengthAdjust="spacingAndGlyphs">2.5000</text><line x1="1820.5" y1="722.5" x2="1824" y2="722.5" stroke="#555"/><text x="1827.3" y="726" font-family="'Liberation Sans', Arial, sans-serif" font-size="11" fill="#5a5a5a" font-weight="normal" text-anchor="start"  textLength="17.7" lengthAdjust="spacingAndGlyphs">10M</text><line x1="1820.5" y1="756.1" x2="1824" y2="756.1" stroke="#555"/><text x="1827.3" y="760" font-family="'Liberation Sans', Arial, sans-serif" font-size="11" fill="#5a5a5a" font-weight="normal" text-anchor="start"  textLength="12.5" lengthAdjust="spacingAndGlyphs">8M</text><line x1="1820.5" y1="789.7" x2="1824" y2="789.7" stroke="#555"/><text x="1827.3" y="794" font-family="'Liberation Sans', Arial, sans-serif" font-size="11" fill="#5a5a5a" font-weight="normal" text-anchor="start"  textLength="12.5" lengthAdjust="spacingAndGlyphs">6M</text><line x1="1820.5" y1="823.3" x2="1824" y2="823.3" stroke="#555"/><text x="1827.3" y="827" font-family="'Liberation Sans', Arial, sans-serif" font-size="11" fill="#5a5a5a" font-weight="normal" text-anchor="start"  textLength="12.5" lengthAdjust="spacingAndGlyphs">4M</text><line x1="1820.5" y1="856.9" x2="1824" y2="856.9" stroke="#555"/><text x="1827.3" y="861" font-family="'Liberation Sans', Arial, sans-serif" font-size="11" fill="#5a5a5a" font-weight="normal" text-anchor="start"  textLength="12.5" lengthAdjust="spacingAndGlyphs">2M</text><line x1="1820.5" y1="890.5" x2="1824" y2="890.5" stroke="#555"/><text x="1827.3" y="894" font-family="'Liberation Sans', Arial, sans-serif" font-size="11" fill="#5a5a5a" font-weight="normal" text-anchor="start"  textLength="4.8" lengthAdjust="spacingAndGlyphs">0</text><rect x="1821" y="151" width="44" height="14.5" fill="#4d4d4d"/><text x="1825.7" y="162.3" font-family="'Liberation Sans', Arial, sans-serif" font-size="11" fill="#ffffff" font-weight="bold" text-anchor="start"  textLength="34.8" lengthAdjust="spacingAndGlyphs">51.9178</text><rect x="1821" y="251" width="44" height="14" fill="#3e6fd9"/><text x="1825.7" y="262.3" font-family="'Liberation Sans', Arial, sans-serif" font-size="11" fill="#ffffff" font-weight="normal" text-anchor="start"  textLength="34.8" lengthAdjust="spacingAndGlyphs">42.6400</text><rect x="1821" y="842" width="42" height="14" fill="#f25f57"/><text x="1826.3" y="853" font-family="'Liberation Sans', Arial, sans-serif" font-size="11" fill="#ffffff" font-weight="bold" text-anchor="start"  textLength="31.8" lengthAdjust="spacingAndGlyphs">2.507M</text><rect x="1821" y="861.5" width="42" height="14" fill="#000000"/><text x="1826.8" y="872.8" font-family="'Liberation Sans', Arial, sans-serif" font-size="11" fill="#ffffff" font-weight="bold" text-anchor="start"  textLength="31.4" lengthAdjust="spacingAndGlyphs">1.357M</text><line x1="77.4" y1="902.5" x2="77.4" y2="906" stroke="#555"/><text x="77.4" y="915.6" font-family="'Liberation Sans', Arial, sans-serif" font-size="11" fill="#555" font-weight="bold" text-anchor="middle"  textLength="21.5" lengthAdjust="spacingAndGlyphs">2019</text><line x1="160.0" y1="902.5" x2="160.0" y2="906" stroke="#555"/><text x="160.0" y="915.6" font-family="'Liberation Sans', Arial, sans-serif" font-size="11" fill="#555" font-weight="normal" text-anchor="middle"  textLength="18.8" lengthAdjust="spacingAndGlyphs">May</text><line x1="242.7" y1="902.5" x2="242.7" y2="906" stroke="#555"/><text x="242.7" y="915.6" font-family="'Liberation Sans', Arial, sans-serif" font-size="11" fill="#555" font-weight="normal" text-anchor="middle"  textLength="17.2" lengthAdjust="spacingAndGlyphs">Sep</text><line x1="330.2" y1="902.5" x2="330.2" y2="906" stroke="#555"/><text x="330.2" y="915.6" font-family="'Liberation Sans', Arial, sans-serif" font-size="11" fill="#555" font-weight="bold" text-anchor="middle"  textLength="21.5" lengthAdjust="spacingAndGlyphs">2020</text><line x1="412.8" y1="902.5" x2="412.8" y2="906" stroke="#555"/><text x="412.8" y="915.6" font-family="'Liberation Sans', Arial, sans-serif" font-size="11" fill="#555" font-weight="normal" text-anchor="middle"  textLength="18.8" lengthAdjust="spacingAndGlyphs">May</text><line x1="500.3" y1="902.5" x2="500.3" y2="906" stroke="#555"/><text x="500.3" y="915.6" font-family="'Liberation Sans', Arial, sans-serif" font-size="11" fill="#555" font-weight="normal" text-anchor="middle"  textLength="17.2" lengthAdjust="spacingAndGlyphs">Sep</text><line x1="582.9" y1="902.5" x2="582.9" y2="906" stroke="#555"/><text x="582.9" y="915.6" font-family="'Liberation Sans', Arial, sans-serif" font-size="11" fill="#555" font-weight="bold" text-anchor="middle"  textLength="21.5" lengthAdjust="spacingAndGlyphs">2021</text><line x1="665.6" y1="902.5" x2="665.6" y2="906" stroke="#555"/><text x="665.6" y="915.6" font-family="'Liberation Sans', Arial, sans-serif" font-size="11" fill="#555" font-weight="normal" text-anchor="middle"  textLength="18.8" lengthAdjust="spacingAndGlyphs">May</text><line x1="753.0" y1="902.5" x2="753.0" y2="906" stroke="#555"/><text x="753.0" y="915.6" font-family="'Liberation Sans', Arial, sans-serif" font-size="11" fill="#555" font-weight="normal" text-anchor="middle"  textLength="17.2" lengthAdjust="spacingAndGlyphs">Sep</text><line x1="835.7" y1="902.5" x2="835.7" y2="906" stroke="#555"/><text x="835.7" y="915.6" font-family="'Liberation Sans', Arial, sans-serif" font-size="11" fill="#555" font-weight="bold" text-anchor="middle"  textLength="21.5" lengthAdjust="spacingAndGlyphs">2022</text><line x1="918.3" y1="902.5" x2="918.3" y2="906" stroke="#555"/><text x="918.3" y="915.6" font-family="'Liberation Sans', Arial, sans-serif" font-size="11" fill="#555" font-weight="normal" text-anchor="middle"  textLength="18.8" lengthAdjust="spacingAndGlyphs">May</text><line x1="1005.8" y1="902.5" x2="1005.8" y2="906" stroke="#555"/><text x="1005.8" y="915.6" font-family="'Liberation Sans', Arial, sans-serif" font-size="11" fill="#555" font-weight="normal" text-anchor="middle"  textLength="17.2" lengthAdjust="spacingAndGlyphs">Sep</text><line x1="1088.4" y1="902.5" x2="1088.4" y2="906" stroke="#555"/><text x="1088.4" y="915.6" font-family="'Liberation Sans', Arial, sans-serif" font-size="11" fill="#555" font-weight="bold" text-anchor="middle"  textLength="21.5" lengthAdjust="spacingAndGlyphs">2023</text><line x1="1341.2" y1="902.5" x2="1341.2" y2="906" stroke="#555"/><text x="1341.2" y="915.6" font-family="'Liberation Sans', Arial, sans-serif" font-size="11" fill="#555" font-weight="bold" text-anchor="middle"  textLength="21.5" lengthAdjust="spacingAndGlyphs">2024</text><line x1="1428.7" y1="902.5" x2="1428.7" y2="906" stroke="#555"/><text x="1428.7" y="915.6" font-family="'Liberation Sans', Arial, sans-serif" font-size="11" fill="#555" font-weight="normal" text-anchor="middle"  textLength="18.8" lengthAdjust="spacingAndGlyphs">May</text><line x1="1511.3" y1="902.5" x2="1511.3" y2="906" stroke="#555"/><text x="1511.3" y="915.6" font-family="'Liberation Sans', Arial, sans-serif" font-size="11" fill="#555" font-weight="normal" text-anchor="middle"  textLength="17.2" lengthAdjust="spacingAndGlyphs">Sep</text><line x1="1598.8" y1="902.5" x2="1598.8" y2="906" stroke="#555"/><text x="1598.8" y="915.6" font-family="'Liberation Sans', Arial, sans-serif" font-size="11" fill="#555" font-weight="bold" text-anchor="middle"  textLength="21.5" lengthAdjust="spacingAndGlyphs">2025</text><line x1="1681.4" y1="902.5" x2="1681.4" y2="906" stroke="#555"/><text x="1681.4" y="915.6" font-family="'Liberation Sans', Arial, sans-serif" font-size="11" fill="#555" font-weight="normal" text-anchor="middle"  textLength="18.8" lengthAdjust="spacingAndGlyphs">May</text><line x1="1764.1" y1="902.5" x2="1764.1" y2="906" stroke="#555"/><text x="1764.1" y="915.6" font-family="'Liberation Sans', Arial, sans-serif" font-size="11" fill="#555" font-weight="normal" text-anchor="middle"  textLength="17.2" lengthAdjust="spacingAndGlyphs">Sep</text><line x1="1171.1" y1="902.5" x2="1171.1" y2="906" stroke="#555"/><text x="1171.1" y="915.6" font-family="'Liberation Sans', Arial, sans-serif" font-size="11" fill="#555" font-weight="normal" text-anchor="middle"  textLength="18.8" lengthAdjust="spacingAndGlyphs">May</text><line x1="1239.1" y1="902.5" x2="1239.1" y2="906" stroke="#555"/><text x="1239.1" y="915.6" font-family="'Liberation Sans', Arial, sans-serif" font-size="11" fill="#555" font-weight="normal" text-anchor="middle"  textLength="16.9" lengthAdjust="spacingAndGlyphs">Aug</text><rect x="1098" y="902" width="57" height="17" fill="#555555"/><text x="1101.5" y="915.6" font-family="'Liberation Sans', Arial, sans-serif" font-size="11" fill="#ffffff" font-weight="bold" text-anchor="start"  textLength="50.4" lengthAdjust="spacingAndGlyphs">2023-02-27</text><line x1="1127.5" y1="903" x2="1127.5" y2="906" stroke="#ccc"/><rect x="8.5" y="47.5" width="10" height="11" rx="1.2" fill="none" stroke="#8c8c8c"/><line x1="10" y1="53" x2="17" y2="53" stroke="#8c8c8c"/><text x="24.7" y="59.3" font-family="'Liberation Sans', Arial, sans-serif" font-size="14.4" fill="#575757" font-weight="normal" text-anchor="start"  textLength="316.7" lengthAdjust="spacingAndGlyphs">Metlen Energy &amp; Metals AE, Ελλάδα, W, Αθήνα</text><path d="M346.5 52 L352.5 52 L349.5 55.5 Z" fill="#c4c4c4"/><rect x="362" y="48" width="12.5" height="12.5" fill="#d9d9d9"/><rect x="377" y="48" width="12.5" height="12.5" fill="#d9d9d9"/><path d="M363.6 54.4 Q368.3 47.0 373.0 54.4 Q368.3 61.8 363.6 54.4 Z" fill="#fff"/><circle cx="368.3" cy="54.4" r="2.3" fill="#d9d9d9"/><circle cx="368.3" cy="54.4" r="1" fill="#fff"/><g fill="#fff"><rect x="382.40000000000003" y="49.8" width="1.8" height="2.4" transform="rotate(0 383.3 54.4)"/><rect x="382.40000000000003" y="49.8" width="1.8" height="2.4" transform="rotate(45 383.3 54.4)"/><rect x="382.40000000000003" y="49.8" width="1.8" height="2.4" transform="rotate(90 383.3 54.4)"/><rect x="382.40000000000003" y="49.8" width="1.8" height="2.4" transform="rotate(135 383.3 54.4)"/><rect x="382.40000000000003" y="49.8" width="1.8" height="2.4" transform="rotate(180 383.3 54.4)"/><rect x="382.40000000000003" y="49.8" width="1.8" height="2.4" transform="rotate(225 383.3 54.4)"/><rect x="382.40000000000003" y="49.8" width="1.8" height="2.4" transform="rotate(270 383.3 54.4)"/><rect x="382.40000000000003" y="49.8" width="1.8" height="2.4" transform="rotate(315 383.3 54.4)"/><circle cx="383.3" cy="54.4" r="3.3"/></g><circle cx="383.3" cy="54.4" r="1.3" fill="#d9d9d9"/><text x="397" y="57.9" font-family="'Liberation Sans', Arial, sans-serif" font-size="12" fill="#555" font-weight="normal" text-anchor="start" >O</text><text x="407.1" y="57.9" font-family="'Liberation Sans', Arial, sans-serif" font-size="12" fill="#6b1f1f" font-weight="normal" text-anchor="start"  textLength="47.2" lengthAdjust="spacingAndGlyphs">25.0000</text><text x="463.6" y="57.9" font-family="'Liberation Sans', Arial, sans-serif" font-size="12" fill="#555" font-weight="normal" text-anchor="start" >H</text><text x="473.1" y="57.9" font-family="'Liberation Sans', Arial, sans-serif" font-size="12" fill="#6b1f1f" font-weight="normal" text-anchor="start"  textLength="47.2" lengthAdjust="spacingAndGlyphs">25.5200</text><text x="529.7" y="57.9" font-family="'Liberation Sans', Arial, sans-serif" font-size="12" fill="#555" font-weight="normal" text-anchor="start" >L</text><text x="537.8" y="57.9" font-family="'Liberation Sans', Arial, sans-serif" font-size="12" fill="#6b1f1f" font-weight="normal" text-anchor="start"  textLength="47.2" lengthAdjust="spacingAndGlyphs">24.5600</text><text x="593.1" y="57.9" font-family="'Liberation Sans', Arial, sans-serif" font-size="12" fill="#555" font-weight="normal" text-anchor="start" >C</text><text x="602.3" y="57.9" font-family="'Liberation Sans', Arial, sans-serif" font-size="12" fill="#6b1f1f" font-weight="normal" text-anchor="start"  textLength="47.2" lengthAdjust="spacingAndGlyphs">24.8000</text><rect x="1786" y="60" width="13" height="12" fill="#d8d8d8"/><rect x="1802" y="60" width="12" height="12" fill="#d8d8d8"/><path d="M1791.6 63 L1793.2 63 L1793.2 67 L1794.7 67 L1792.4 70 L1790.1 67 L1791.6 67 Z" fill="#fff"/><path d="M1808 61.2 L1810.3 64 L1808.8 64 L1808.8 68 L1810.3 68 L1808 70.8 L1805.7 68 L1807.2 68 L1807.2 64 L1805.7 64 Z" fill="#fff"/><text x="8.4" y="719.5" font-family="'Liberation Sans', Arial, sans-serif" font-size="11.5" fill="#555" font-weight="normal" text-anchor="start"  textLength="56.6" lengthAdjust="spacingAndGlyphs">Volume (20)</text><path d="M70 713.5 L75 713.5 L72.5 716.5 Z" fill="#c4c4c4"/><rect x="85" y="709.5" width="12.5" height="12" fill="#d9d9d9"/><rect x="101" y="709.5" width="12" height="12" fill="#d9d9d9"/><rect x="116.3" y="709.5" width="12.2" height="12" fill="#d9d9d9"/><path d="M86.6 715.5 Q91.3 708.1 96.0 715.5 Q91.3 722.9 86.6 715.5 Z" fill="#fff"/><circle cx="91.3" cy="715.5" r="2.3" fill="#d9d9d9"/><circle cx="91.3" cy="715.5" r="1" fill="#fff"/><g fill="#fff"><rect x="106.1" y="710.9" width="1.8" height="2.4" transform="rotate(0 107 715.5)"/><rect x="106.1" y="710.9" width="1.8" height="2.4" transform="rotate(45 107 715.5)"/><rect x="106.1" y="710.9" width="1.8" height="2.4" transform="rotate(90 107 715.5)"/><rect x="106.1" y="710.9" width="1.8" height="2.4" transform="rotate(135 107 715.5)"/><rect x="106.1" y="710.9" width="1.8" height="2.4" transform="rotate(180 107 715.5)"/><rect x="106.1" y="710.9" width="1.8" height="2.4" transform="rotate(225 107 715.5)"/><rect x="106.1" y="710.9" width="1.8" height="2.4" transform="rotate(270 107 715.5)"/><rect x="106.1" y="710.9" width="1.8" height="2.4" transform="rotate(315 107 715.5)"/><circle cx="107" cy="715.5" r="3.3"/></g><circle cx="107" cy="715.5" r="1.3" fill="#d9d9d9"/><path d="M119 712 L126 719 M126 712 L119 719" stroke="#fff" stroke-width="1.5"/><text x="136.5" y="719.5" font-family="'Liberation Sans', Arial, sans-serif" font-size="11.5" fill="#e0524e" font-weight="normal" text-anchor="start"  textLength="28" lengthAdjust="spacingAndGlyphs">1.37M</text><text x="173.8" y="719.5" font-family="'Liberation Sans', Arial, sans-serif" font-size="11.5" fill="#222" font-weight="normal" text-anchor="start"  textLength="33.8" lengthAdjust="spacingAndGlyphs">1.542M</text><text x="14.8" y="685.3" font-family="'Liberation Sans', Arial, sans-serif" font-size="18.4" fill="#111" font-weight="bold" text-anchor="start" stroke="#111" stroke-width="0.6" textLength="80.5" lengthAdjust="spacingAndGlyphs">Investing</text><text x="96.3" y="685.3" font-family="'Liberation Sans', Arial, sans-serif" font-size="12.5" fill="#555" font-weight="normal" text-anchor="start"  textLength="26.4" lengthAdjust="spacingAndGlyphs">.com</text><circle cx="70.4" cy="671.3" r="1.5" fill="#f5a623"/></svg></body></html>
